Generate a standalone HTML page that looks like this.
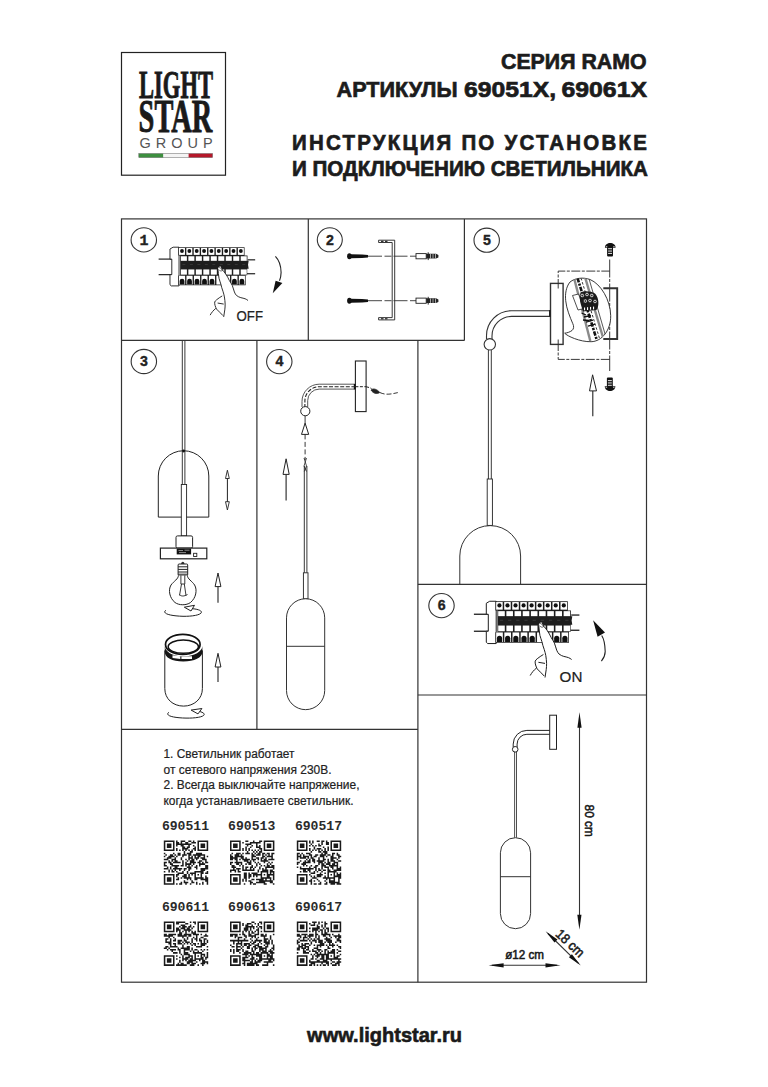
<!DOCTYPE html>
<html><head><meta charset="utf-8">
<style>
html,body{margin:0;padding:0;background:#fff;width:768px;height:1087px;overflow:hidden}
svg{display:block}
text{font-family:"Liberation Sans",sans-serif}
</style></head><body>
<svg width="768" height="1087" viewBox="0 0 768 1087">
<rect width="768" height="1087" fill="#fff"/>
<!-- 00_defs.svg -->
<defs><g id="brk"><g stroke="#1e1e1e" stroke-width="1.3" fill="none"><line x1="-13.3" y1="13" x2="1" y2="13"/><line x1="-13.3" y1="30" x2="1" y2="30"/><line x1="84" y1="13.8" x2="92.2" y2="13.8"/><line x1="83" y1="29" x2="92.2" y2="29"/></g><path d="M2.5,0 H9 V42.3 H0.5 L-0.9,41 V30 H1.1 V13 H-0.9 V2 Z" fill="#fff" stroke="#1e1e1e" stroke-width="1"/><path d="M8.2,0 H80.6 V9.2 H83.8 V14.9 H85.1 L84.4,19.2 L85.1,23.5 H83.5 V30.6 H81.8 V41.6 H8.2 V31 H10.2 V9.2 H8.2 Z" fill="#1e1e1e"/><g fill="#fff"><rect x="8.95" y="0.8" width="6.54" height="7.6"/><rect x="11.00" y="9.9" width="6.58" height="5.0"/><rect x="11.00" y="24.3" width="6.58" height="5.7"/><rect x="8.95" y="31.2" width="6.68" height="9.6"/><rect x="16.99" y="0.8" width="6.54" height="7.6"/><rect x="19.18" y="9.9" width="6.58" height="5.0"/><rect x="19.18" y="24.3" width="6.58" height="5.7"/><rect x="17.13" y="31.2" width="6.68" height="9.6"/><rect x="25.04" y="0.8" width="6.54" height="7.6"/><rect x="27.36" y="9.9" width="6.58" height="5.0"/><rect x="27.36" y="24.3" width="6.58" height="5.7"/><rect x="25.31" y="31.2" width="6.68" height="9.6"/><rect x="33.08" y="0.8" width="6.54" height="7.6"/><rect x="35.53" y="9.9" width="6.58" height="5.0"/><rect x="35.53" y="24.3" width="6.58" height="5.7"/><rect x="33.48" y="31.2" width="6.68" height="9.6"/><rect x="41.13" y="0.8" width="6.54" height="7.6"/><rect x="43.71" y="9.9" width="6.58" height="5.0"/><rect x="43.71" y="24.3" width="6.58" height="5.7"/><rect x="41.66" y="31.2" width="6.68" height="9.6"/><rect x="49.17" y="0.8" width="6.54" height="7.6"/><rect x="51.89" y="9.9" width="6.58" height="5.0"/><rect x="51.89" y="24.3" width="6.58" height="5.7"/><rect x="49.84" y="31.2" width="6.68" height="9.6"/><rect x="57.22" y="0.8" width="6.54" height="7.6"/><rect x="60.07" y="9.9" width="6.58" height="5.0"/><rect x="60.07" y="24.3" width="6.58" height="5.7"/><rect x="58.02" y="31.2" width="6.68" height="9.6"/><rect x="65.26" y="0.8" width="6.54" height="7.6"/><rect x="68.24" y="9.9" width="6.58" height="5.0"/><rect x="68.24" y="24.3" width="6.58" height="5.7"/><rect x="66.19" y="31.2" width="6.68" height="9.6"/><rect x="73.31" y="0.8" width="6.54" height="7.6"/><rect x="76.42" y="9.9" width="6.58" height="5.0"/><rect x="76.42" y="24.3" width="6.58" height="5.7"/><rect x="74.37" y="31.2" width="6.68" height="9.6"/></g><g fill="#3a3a3a"><rect x="12.69" y="18.5" width="3.2" height="1"/><rect x="20.87" y="18.5" width="3.2" height="1"/><rect x="29.04" y="18.5" width="3.2" height="1"/><rect x="37.22" y="18.5" width="3.2" height="1"/><rect x="45.40" y="18.5" width="3.2" height="1"/><rect x="53.58" y="18.5" width="3.2" height="1"/><rect x="61.76" y="18.5" width="3.2" height="1"/><rect x="69.93" y="18.5" width="3.2" height="1"/><rect x="78.11" y="18.5" width="3.2" height="1"/></g><g fill="#111"><circle cx="12.22" cy="4.2" r="2.1"/><path d="M9.69,40.8 V37 A2.6,2.6 0 0 1 14.89,37 V40.8 Z"/><circle cx="20.27" cy="4.2" r="2.1"/><path d="M17.87,40.8 V37 A2.6,2.6 0 0 1 23.07,37 V40.8 Z"/><circle cx="28.31" cy="4.2" r="2.1"/><path d="M26.04,40.8 V37 A2.6,2.6 0 0 1 31.24,37 V40.8 Z"/><circle cx="36.36" cy="4.2" r="2.1"/><path d="M34.22,40.8 V37 A2.6,2.6 0 0 1 39.42,37 V40.8 Z"/><circle cx="44.40" cy="4.2" r="2.1"/><path d="M42.40,40.8 V37 A2.6,2.6 0 0 1 47.60,37 V40.8 Z"/><circle cx="52.44" cy="4.2" r="2.1"/><circle cx="60.49" cy="4.2" r="2.1"/><circle cx="68.53" cy="4.2" r="2.1"/><path d="M66.93,40.8 V37 A2.6,2.6 0 0 1 72.13,37 V40.8 Z"/><circle cx="76.58" cy="4.2" r="2.1"/><path d="M75.11,40.8 V37 A2.6,2.6 0 0 1 80.31,37 V40.8 Z"/></g><path d="M51.55,23.95 C51.8,21.5 53.5,20.6 55,21.6 C55.8,22.6 56,23.6 56.2,24.65 C57.5,26 59,27.7 60.05,29.35 C61.5,31.5 63,34 64.05,36.45 C65.2,38.4 66.4,40 67.2,41.85 L69.5,48.95 L57,48.15 C56,45.5 55.3,43 54.7,40.35 C54,38 53.2,36 52.7,34.05 C52.2,30.5 51.7,27 51.55,23.95 Z" fill="#fff"/><path d="M55,21.6 C55.8,22.6 56,23.6 56.2,24.65 C57.5,26 59,27.7 60.05,29.35 C61.5,31.5 63,34 64.05,36.45 C65.2,38.4 66.4,40 67.2,41.85 C68.2,44.5 68.8,47 69.5,48.95 C70.2,50.5 70.8,51.8 71.8,52.75 C73.4,54 75,54.7 76.55,55.15 C78.2,55.6 79.8,55.8 81.2,56.35 C82.4,56.8 83.5,57.5 84.4,58.25" fill="none" stroke="#1e1e1e" stroke-width="1"/><path d="M51.55,23.95 C51.7,27 52.2,30.5 52.7,34.05 C53.2,36 54,38 54.7,40.35 C55.3,43 56,45.5 57,48.15 C57.7,50.3 58.2,52.3 58.6,54.35 C59,57 59.3,59.5 59.4,62.15 C59.4,64.3 59.3,66.4 59,68.45 C58.7,71 58.3,73.6 57.8,76.25" fill="none" stroke="#1e1e1e" stroke-width="1"/><path d="M56.2,53.25 C54,54.6 51.8,56 50,57.5 C49.1,58.2 48.4,59 48,59.85 C47.8,61.1 48,62.5 48.4,63.75 C48.9,65.1 49.3,66.4 50,67.65 C51.2,69 52.6,70.3 53.9,71.55 C55,72.6 56,73.7 57,74.75" fill="none" stroke="#1e1e1e" stroke-width="1"/><path d="M43,74.25 C44.5,71.5 46.5,69 49.2,66.85" fill="none" stroke="#1e1e1e" stroke-width="1"/><path d="M51.2,61.05 L57.8,62.15" fill="none" stroke="#1e1e1e" stroke-width="1"/><path d="M52.3,22.5 C53.6,21.7 55.6,23.2 56.4,25.4 C55,26.4 53.5,25.9 52.6,24.6" fill="none" stroke="#1e1e1e" stroke-width="0.7"/></g></defs>
<!-- 10_logo.svg -->
<g id="logo">
<rect x="121.5" y="52.5" width="104" height="122.7" fill="none" stroke="#222" stroke-width="1.2"/>
<text x="139.1" y="98" font-family="Liberation Serif" font-weight="bold" font-size="39" textLength="73.8" lengthAdjust="spacingAndGlyphs" fill="#1a1a1a" stroke="#1a1a1a" stroke-width="0.9" style="font-family:'Liberation Serif',serif">LIGHT</text>
<text x="138.6" y="132.3" font-family="Liberation Serif" font-weight="bold" font-size="47" textLength="73.6" lengthAdjust="spacingAndGlyphs" fill="#1a1a1a" stroke="#1a1a1a" stroke-width="0.9" style="font-family:'Liberation Serif',serif">STAR</text>
<text x="139.6" y="147.6" font-size="14.5" textLength="73" lengthAdjust="spacing" fill="#555">GROUP</text>
<rect x="138.8" y="153.5" width="24.6" height="4.1" fill="#3d8f3f"/>
<rect x="163.4" y="153.5" width="25.2" height="4.1" fill="#f4f4f4"/>
<rect x="188.6" y="153.5" width="24" height="4.1" fill="#b5182a"/>
<rect x="138.8" y="153.5" width="73.8" height="4.1" fill="none" stroke="#666" stroke-width="0.5"/>
</g>
<!-- 11_header.svg -->
<g font-weight="bold" fill="#1c1c1c" stroke="#1c1c1c" stroke-width="0.7" font-size="22.5">
<text x="501" y="68.6" textLength="145.5" lengthAdjust="spacingAndGlyphs">СЕРИЯ RAMO</text>
<text x="336.6" y="96.8" textLength="121" lengthAdjust="spacingAndGlyphs">АРТИКУЛЫ</text>
<text x="464" y="96.8" textLength="92" lengthAdjust="spacingAndGlyphs">69051X,</text>
<text x="561.5" y="96.8" textLength="85.5" lengthAdjust="spacingAndGlyphs">69061X</text>
<text transform="translate(292,149.6) scale(0.91,1)" x="0" y="0" textLength="390" lengthAdjust="spacing">ИНСТРУКЦИЯ ПО УСТАНОВКЕ</text>
<text x="292" y="175.8" textLength="356" lengthAdjust="spacingAndGlyphs">И ПОДКЛЮЧЕНИЮ СВЕТИЛЬНИКА</text>
</g>
<!-- 20_grid.svg -->
<g stroke="#333" stroke-width="1.2" fill="none">
<rect x="121.5" y="218.9" width="525" height="763.3"/>
<line x1="121.5" y1="340.4" x2="464.4" y2="340.4"/>
<line x1="308.3" y1="218.9" x2="308.3" y2="340.4"/>
<line x1="464.4" y1="218.9" x2="464.4" y2="340.4"/>
<line x1="256.9" y1="340.4" x2="256.9" y2="729.3"/>
<line x1="417.9" y1="340.4" x2="417.9" y2="982.2"/>
<line x1="121.5" y1="729.3" x2="417.9" y2="729.3"/>
<line x1="417.9" y1="584.4" x2="646.5" y2="584.4"/>
<line x1="417.9" y1="695" x2="646.5" y2="695"/>
</g>
<!-- 21_circles.svg -->
<g stroke="#333" stroke-width="1.1" fill="none">
<ellipse cx="143.8" cy="239.9" rx="12.7" ry="12.1"/>
<ellipse cx="329.8" cy="239.8" rx="12.5" ry="12"/>
<ellipse cx="486.7" cy="240.2" rx="12.7" ry="12.1"/>
<ellipse cx="143.85" cy="361.5" rx="12.7" ry="12.1"/>
<ellipse cx="279.3" cy="361.6" rx="12.7" ry="12.1"/>
<ellipse cx="441.5" cy="605.6" rx="12.7" ry="12.1"/>
</g>
<g font-weight="bold" font-size="14.2" fill="#222" stroke="#222" stroke-width="0.35" text-anchor="middle">
<text x="143.9" y="244.5" font-family="Liberation Mono" style="font-family:Liberation Mono,monospace" font-size="15">1</text>
<text x="329.9" y="244.5">2</text>
<text x="487" y="244.5">5</text>
<text x="144" y="366.1">3</text>
<text x="279.5" y="366.2">4</text>
<text x="441.6" y="610.2">6</text>
</g>
<!-- 31_panel1.svg -->
<use href="#brk" transform="translate(170.8,247.2) scale(0.915)"/>
<path d="M275.4,256.3 C279,260 281,265 281.1,272.4 C281,276 280.5,278.5 279.5,280.7" fill="none" stroke="#222" stroke-width="1.1"/>
<path d="M275.6,280.7 L282.4,283.1 L272.8,293.2 Z" fill="#111"/>
<text x="236.5" y="321.2" font-size="14" fill="#222" stroke="#222" stroke-width="0.2" textLength="26.5" lengthAdjust="spacingAndGlyphs">OFF</text>
<!-- 32_panel2.svg -->
<g id="p2">
<!-- bracket -->
<path d="M378.6,240.2 H394.7 V319.9 H378.6 V317.6 H392.2 V242.5 H378.6 Z" fill="#fff" stroke="#222" stroke-width="0.9"/>
<g fill="#333"><rect x="381" y="240.7" width="2.5" height="1.3"/><rect x="385" y="240.7" width="2.5" height="1.3"/><rect x="381" y="318.1" width="2.5" height="1.3"/><rect x="385" y="318.1" width="2.5" height="1.3"/></g>
<!-- screws -->
<g id="scr">
<line x1="368" y1="256.2" x2="416" y2="256.2" stroke="#333" stroke-width="0.9" stroke-dasharray="14,2.5,7,2"/>
<ellipse cx="349.4" cy="256.2" rx="2.3" ry="3" fill="#111"/>
<path d="M350.5,254.2 L362,254.5 L368,255 V257.4 L362,257.9 L350.5,258.2 Z" fill="#111"/>
<rect x="416" y="253.6" width="10.2" height="5.2" fill="#fff" stroke="#222" stroke-width="0.9"/>
<path d="M426.2,253.8 H436 L438.4,255 V257.4 L436,258.6 H426.2 Z" fill="#222"/>
<line x1="428.2" y1="252.3" x2="428.2" y2="260.1" stroke="#222" stroke-width="1"/>
<g stroke="#fff" stroke-width="0.6"><line x1="430.5" y1="254" x2="430.5" y2="258.4"/><line x1="433" y1="254" x2="433" y2="258.4"/><line x1="435.5" y1="254" x2="435.5" y2="258.4"/></g>
</g>
<use href="#scr" transform="translate(0,44.5)"/>
</g>
<!-- 33_panel3.svg -->
<g id="p3" fill="none" stroke="#222" stroke-width="0.9">
<!-- rod -->
<line x1="182.3" y1="341" x2="182.3" y2="484.5"/>
<line x1="184.9" y1="341" x2="184.9" y2="484.5"/>
<!-- dome -->
<path d="M158.3,517.1 V476 A25.25,25.25 0 0 1 208.8,476 V517.1 Z" stroke="#222" stroke-width="1"/>
<circle cx="183.6" cy="451" r="1.4" fill="#111" stroke="none"/>
<!-- sleeve -->
<rect x="181.3" y="484.5" width="5.3" height="51.4" fill="#fff"/>
<!-- double arrow -->
<line x1="227.4" y1="478" x2="227.4" y2="502" stroke-width="1"/>
<path d="M227.4,470.2 L229.3,478.5 H225.5 Z" fill="#fff" stroke-width="0.9"/>
<path d="M227.4,510 L229.3,501.7 H225.5 Z" fill="#fff" stroke-width="0.9"/>
<!-- socket -->
<rect x="176" y="535.9" width="16.6" height="12.2" rx="1.5" fill="#fff" stroke-width="1"/>
<!-- plate -->
<rect x="160.4" y="548.1" width="46.4" height="10.7" fill="#fff" stroke-width="1.2"/>
<rect x="176.7" y="548.6" width="14.4" height="5.8" fill="#111" stroke="none"/>
<path d="M178.5,550.5 H183 M184.5,550.2 H189.5 M179,552.6 H186" stroke="#bbb" stroke-width="0.7"/>
<rect x="193.6" y="553.3" width="3.2" height="3.2" fill="#fff" stroke-width="0.9"/>
<!-- bulb -->
<circle cx="182.8" cy="563.4" r="1.6" fill="#333" stroke="none"/>
<rect x="178.1" y="564" width="9.6" height="11.4" rx="1" fill="#fff" stroke-width="1"/>
<path d="M178.1,566.8 H187.7 M178.1,569.4 H187.7 M178.1,572 H187.7 M178.1,574.2 H187.7" stroke-width="1"/>
<path d="M178.4,575.4 C178.4,579 174,581 171,585 C168,590 169.5,598 175,602.5 C179,605.5 186.5,605.5 190.5,602.5 C196,598 197.5,590 194.6,585 C192,581 187.4,579 187.4,575.4" stroke-width="1" fill="#fff"/>
<path d="M180.9,575.4 V584 H184.8 V575.4 M181.5,584 L179.5,595.5 M184.3,584 L186,595.5 M179.5,594.5 C181,596.5 184,596.5 187.5,594.5" stroke-width="0.9"/>
<!-- rotation arrow 1 -->
<path d="M190.5,608.5 C197,609 201.5,610.2 201.4,612.3 C201,615 192,616.5 183,616.3 C173,616 165.5,614.5 164.8,612.2 C164.5,611.3 165,610.8 166,610.3" stroke-width="1"/>
<path d="M184.3,607.2 L194.5,605.3 L191,611 Z" fill="#fff" stroke-width="1"/>
<!-- up arrow 1 -->
<line x1="218" y1="586.6" x2="218" y2="602.8" stroke-width="1.1"/>
<path d="M218,573 L220.9,586.6 H215.1 Z" fill="#fff" stroke-width="1"/>
<!-- shade -->
<path d="M164.8,650.4 V688.5 C164.8,699 173,706.1 183.6,706.1 C194,706.1 202.4,699 202.4,688.5 V650.4" stroke-width="1"/>
<path d="M164.8,646 C164.8,651 172,656.5 183.3,656.5 C194.5,656.5 202.4,651 202.4,646 V652 C202.4,657.5 194.5,661.5 183.3,661.5 C172,661.5 164.8,657.5 164.8,652 Z" fill="#151515" stroke="none"/>
<ellipse cx="182.8" cy="644.4" rx="17.3" ry="10" fill="#fff" stroke="#111" stroke-width="1.7"/>
<ellipse cx="183.3" cy="646.7" rx="15.1" ry="6.6" fill="#fff" stroke="#111" stroke-width="1.5"/>
<g fill="#fff" stroke="none"><path d="M172.5,655.2 L180.3,656.3 V659 L172.5,658 Z"/><path d="M181.4,656.4 L192,656.2 V658.9 L181.4,659.1 Z"/></g>
<!-- up arrow 2 -->
<line x1="218" y1="667" x2="218" y2="682.1" stroke-width="1.1"/>
<path d="M218,653.3 L220.9,667 H215.1 Z" fill="#fff" stroke-width="1"/>
<!-- rotation arrow 2 -->
<path d="M196,710.8 C201,711.5 204.3,712.8 204.2,714.5 C203.8,717 195,718.3 186,718.1 C176,717.9 168.5,716.5 167.8,714.3 C167.5,713.4 168,712.8 169,712.3" stroke-width="1"/>
<path d="M191.1,710.1 L201.9,708.5 L198,713.9 Z" fill="#fff" stroke-width="1"/>
</g>
<!-- 34_panel4.svg -->
<g id="p4" fill="none" stroke="#222" stroke-width="0.9">
<!-- plate -->
<rect x="355.4" y="361" width="10.7" height="50.6" fill="#fff" stroke-width="1.1"/>
<!-- arm -->
<path d="M355.4,384.2 H319.2 A17.2,17.2 0 0 0 302,401.4 V407" stroke="#444" stroke-width="0.9"/>
<path d="M355.4,389.1 H319.2 A11.5,11.5 0 0 0 307.7,400.6 V407" stroke="#444" stroke-width="0.9"/>
<rect x="353.8" y="384" width="1.8" height="5.3" fill="#111" stroke="none"/>
<path d="M355.4,386.7 H319.2 A14.3,14.3 0 0 0 304.9,401 V411" stroke="#222" stroke-width="1.1" stroke-dasharray="4,1.6"/>
<path d="M366,386.7 C368,387 370,387.8 371.5,388.5" stroke-width="1" stroke-dasharray="3,1.5"/><line x1="355.4" y1="386.7" x2="366" y2="386.7" stroke-width="1" stroke-dasharray="3,1.5"/>
<circle cx="305.3" cy="411.2" r="4.6" fill="#fff" stroke-width="1"/>
<!-- wire -->
<path d="M371,390 C373,388 377,389 379.8,392.5 C377,394.5 373,393.5 371,390 Z" fill="#222" stroke-width="0.8"/>
<path d="M379.8,392.5 C385,395 390,394.5 397.8,392.6" stroke-width="0.9" stroke-dasharray="5,2"/>
<!-- dashed line down -->
<line x1="305.1" y1="415.8" x2="305.1" y2="423.5" stroke-width="0.9"/>
<path d="M305.1,423.1 L308.7,434.4 H301.5 Z" fill="#fff" stroke-width="1"/>
<line x1="305.1" y1="434.4" x2="305.1" y2="460" stroke-width="0.9" stroke-dasharray="5,2.5"/>
<path d="M304,458 L306.5,466 L304.3,471.5 M306.5,458 L304,466 L306.5,471.5" stroke-width="0.8"/>
<!-- rod -->
<line x1="304.3" y1="466" x2="304.3" y2="572.8" stroke-width="0.9"/>
<line x1="306.9" y1="466" x2="306.9" y2="572.8" stroke-width="0.9"/>
<rect x="303.4" y="572.8" width="4.6" height="26" fill="#fff" stroke-width="0.9"/>
<!-- capsule -->
<rect x="286.5" y="598.75" width="38.2" height="110.9" rx="19.1" ry="19.1" fill="#fff" stroke="#333" stroke-width="1"/>
<line x1="286.5" y1="646.3" x2="324.7" y2="646.3" stroke="#333" stroke-width="1"/>
<!-- left arrow -->
<line x1="286.1" y1="474.4" x2="286.1" y2="500.4" stroke-width="1.1"/>
<path d="M286.1,458.8 L289.2,474.4 H283 Z" fill="#fff" stroke-width="1"/>
</g>
<!-- 35_panel5.svg -->
<g id="p5" fill="none" stroke="#222" stroke-width="0.9">
<!-- dashed box -->
<path d="M558.2,288 V271.1 H609.7" stroke-dasharray="9,1.5,3,1.5"/>
<path d="M558.2,342 V359.4 H609.7" stroke-dasharray="9,1.5,3,1.5"/>
<line x1="609.7" y1="259.5" x2="609.7" y2="371" stroke-dasharray="18,1.5,3,1.5"/>
<!-- plate -->
<rect x="550.5" y="283.4" width="12.6" height="61" fill="#fff" stroke="#333" stroke-width="1.4"/>
<line x1="558.2" y1="283.4" x2="558.2" y2="288.5" stroke-width="0.9"/>
<line x1="558.2" y1="339.5" x2="558.2" y2="344.4" stroke-width="0.9"/>
<!-- arm -->
<path d="M550,310.7 H511.5 A25,25 0 0 0 486.5,336 V339" stroke="#333" stroke-width="1.1"/>
<path d="M550,316.4 H511.5 A19.5,19.5 0 0 0 492,336 V339" stroke="#333" stroke-width="1.1"/>
<rect x="549" y="310" width="1.8" height="7" fill="#222" stroke="none"/>
<circle cx="489.8" cy="344.3" r="5.7" fill="#fff" stroke="#333" stroke-width="1.1"/>
<!-- rod -->
<line x1="488.4" y1="350" x2="488.4" y2="479" stroke-width="0.9"/>
<line x1="491.3" y1="350" x2="491.3" y2="479" stroke-width="0.9"/>
<rect x="487.2" y="479" width="5.2" height="46.4" fill="#fff" stroke-width="0.9"/>
<!-- dome -->
<path d="M459.8,584.4 V556 A30.4,30.4 0 0 1 520.6,556 V584.4" stroke="#333" stroke-width="1"/>
<!-- bracket -->
<path d="M603.3,288.2 H617.2 V339 H603.3" stroke="#333" stroke-width="1.9"/>

<!-- junction box -->
<clipPath id="jbclip"><path d="M564.7,333.2 C567,336 580,342 591.1,341.7 C602,341.5 611,330 610.7,315.6 C610.3,300 601,284 590,279.5 C583,277 575,278 570,282 C566,287 565,294 565.7,300.7 C566.5,309 570,317 572.8,323.7 C574,326 574,329 572,330.5 C570,332 567,333 564.7,333.2 Z"/></clipPath>
<path d="M564.7,333.2 C567,336 580,342 591.1,341.7 C602,341.5 611,330 610.7,315.6 C610.3,300 601,284 590,279.5 C583,277 575,278 570,282 C566,287 565,294 565.7,300.7 C566.5,309 570,317 572.8,323.7 C574,326 574,329 572,330.5 C570,332 567,333 564.7,333.2 Z" fill="#fff" stroke="#222" stroke-width="0.9"/>
<g clip-path="url(#jbclip)">
<path d="M573.8,277 L590.3,341" stroke="#8a8a8a" stroke-width="2.4"/>
<path d="M585,277 L603.5,339" stroke="#8a8a8a" stroke-width="2.4"/>
<path d="M588.5,277 L606.5,339" stroke="#444" stroke-width="0.9"/>
<path d="M577.5,278 L596.8,340" stroke="#111" stroke-width="2.6" stroke-dasharray="4.5,1.3,2.2,1.3"/>
<path d="M581,278 L600,340" stroke="#333" stroke-width="1" stroke-dasharray="2.5,1.8"/>
</g>
<path d="M572.5,295.5 L578.5,294 L584,308.5 L578,310 Z" fill="#fff" stroke="#222" stroke-width="0.8"/>
<path d="M580.5,292.5 C584,290.5 591,291 595,293.5 C598,296.5 599,302 598,306.5 L596.5,310 L583,311.5 L581,305 C579.5,301 579.5,296 580.5,292.5 Z" fill="#1a1a1a" stroke="none"/>
<g fill="#fff" stroke="#111" stroke-width="0.7"><circle cx="582.3" cy="295.6" r="2"/><circle cx="587" cy="294.6" r="2"/><circle cx="591.7" cy="295.5" r="2"/><circle cx="585.3" cy="301" r="2"/><circle cx="590" cy="300.4" r="2"/><circle cx="595" cy="301.6" r="2"/></g><g fill="#111"><circle cx="582.3" cy="295.6" r="0.6"/><circle cx="587" cy="294.6" r="0.6"/><circle cx="591.7" cy="295.5" r="0.6"/><circle cx="585.3" cy="301" r="0.6"/><circle cx="590" cy="300.4" r="0.6"/><circle cx="595" cy="301.6" r="0.6"/></g>
<g fill="#fff" stroke="none"><rect x="584" y="307.5" width="1.1" height="2.8"/><rect x="587" y="307.2" width="1.1" height="2.8"/><rect x="590" y="306.9" width="1.1" height="2.8"/><rect x="593" y="306.6" width="1.1" height="2.8"/></g>
<path d="M581.5,313 L586,315 M584,317 L591,315.5 M583,320 L589,320.5 M586,322 L593,320 M588,326 L595,324" stroke="#111" stroke-width="1.3"/>
<!-- screws -->
<g id="screwT" stroke="none">
<path d="M604.9,247.7 C605,244.5 607.5,243 610.25,243 C613,243 615.5,244.5 615.6,247.7 Z" fill="#111"/>
<rect x="607.1" y="245.7" width="5.9" height="10.8" rx="1" fill="#111"/>
<g fill="#fff"><rect x="608.1" y="248.3" width="3.9" height="0.9"/><rect x="608.1" y="250.6" width="3.9" height="0.9"/><rect x="608.1" y="252.9" width="3.9" height="0.9"/><rect x="605.8" y="246.4" width="1.5" height="0.7"/><rect x="613.2" y="246.4" width="1.5" height="0.7"/></g>
</g>
<g transform="translate(0,634) scale(1,-1)">
<use href="#screwT" transform="translate(-0.2,0)"/>
</g>
<!-- arrow -->
<line x1="592.8" y1="390.9" x2="592.8" y2="416.3" stroke-width="1.1"/>
<path d="M592.6,374.8 L596.5,390.9 H589.5 Z" fill="#fff" stroke-width="1"/>
</g>
<!-- 36_panel6.svg -->
<use href="#brk" transform="translate(487.2,601.25)"/>
<path d="M601.7,635.5 C604,639 605,644 605.2,651.5 C605.2,655 603.5,658.5 601.4,661.1" fill="none" stroke="#222" stroke-width="1.1"/>
<path d="M593.1,620.3 L605,632.5 L597.6,636.8 Z" fill="#111"/>
<text x="559.6" y="681.8" font-size="14.5" fill="#222" stroke="#222" stroke-width="0.2" textLength="22.8" lengthAdjust="spacingAndGlyphs">ON</text>
<!-- 37_panel7.svg -->
<g id="p7" fill="none" stroke="#222" stroke-width="0.9">
<!-- plate -->
<rect x="549.7" y="715.2" width="6.8" height="34.1" fill="#fff" stroke-width="1"/>
<!-- arm -->
<path d="M549.7,730.4 H526.9 A13.7,13.7 0 0 0 513.2,744.1 V747" stroke-width="1"/>
<path d="M549.7,734.3 H526.9 A9.8,9.8 0 0 0 517.1,744.1 V747" stroke-width="1"/>
<circle cx="515.2" cy="749.3" r="2.8" fill="#fff" stroke-width="1"/>
<!-- rod -->
<line x1="514.6" y1="752" x2="514.6" y2="837.7" stroke-width="0.8"/>
<line x1="516.5" y1="752" x2="516.5" y2="837.7" stroke-width="0.8"/>
<!-- capsule -->
<rect x="500.4" y="837.7" width="30.2" height="91" rx="15.1" ry="15.1" fill="#fff" stroke="#333" stroke-width="1"/>
<line x1="500.4" y1="876.7" x2="530.6" y2="876.7" stroke="#333" stroke-width="1"/>
<!-- vertical dim -->
<line x1="579.5" y1="722" x2="579.5" y2="920" stroke="#333" stroke-width="1.1"/>
<path d="M579.5,712.2 L581.6,727.8 H577.4 Z" fill="#111" stroke="none"/>
<path d="M579.4,929.7 L581.5,914.8 H577.3 Z" fill="#111" stroke="none"/>
<!-- diagonal dim -->
<line x1="548" y1="933.5" x2="578.5" y2="963.4" stroke="#333" stroke-width="1.1"/>
<path d="M545.6,931.25 L557.5,939.6 L554.5,942.6 Z" fill="#111" stroke="none"/>
<path d="M580.8,965.6 L568.9,957.3 L571.9,954.3 Z" fill="#111" stroke="none"/>
<!-- horizontal dim -->
<line x1="492" y1="965.3" x2="557" y2="965.3" stroke="#333" stroke-width="1.1"/>
<path d="M488.6,965.3 L503.6,963.2 V967.4 Z" fill="#111" stroke="none"/>
<path d="M560.5,965.3 L545.5,963.2 V967.4 Z" fill="#111" stroke="none"/>
</g>
<g fill="#1a1a1a" stroke="#1a1a1a" stroke-width="0.55" font-size="13">
<text transform="translate(584.9,804.6) rotate(90)" textLength="32.3" lengthAdjust="spacingAndGlyphs">80 cm</text>
<text transform="translate(567,946.6) rotate(43.5)" text-anchor="middle" font-size="13.6" textLength="33.8" lengthAdjust="spacingAndGlyphs">18 cm</text>
<text x="505.2" y="959.4" font-size="12" textLength="38.8" lengthAdjust="spacingAndGlyphs">ø12 cm</text>
</g>
<!-- 40_notes.svg -->
<g font-size="12.3" fill="#222" stroke="#222" stroke-width="0.2">
<text x="163.5" y="758.4" textLength="131" lengthAdjust="spacingAndGlyphs">1. Светильник работает</text>
<text x="163.5" y="773.9" textLength="168" lengthAdjust="spacingAndGlyphs">от сетевого напряжения 230В.</text>
<text x="163.5" y="789.4" textLength="196" lengthAdjust="spacingAndGlyphs">2. Всегда выключайте напряжение,</text>
<text x="163.5" y="804.9" textLength="190" lengthAdjust="spacingAndGlyphs">когда устанавливаете светильник.</text>
</g>
<!-- 41_qr.svg -->
<g id="qrs">
<path d="M163.80,840.40h10.72v1.53h-10.72zM176.05,840.40h1.53v1.53h-1.53zM180.64,840.40h4.59v1.53h-4.59zM188.30,840.40h3.06v1.53h-3.06zM192.89,840.40h1.53v1.53h-1.53zM197.48,840.40h10.72v1.53h-10.72zM163.80,841.93h1.53v1.53h-1.53zM172.99,841.93h1.53v1.53h-1.53zM176.05,841.93h3.06v1.53h-3.06zM180.64,841.93h1.53v1.53h-1.53zM185.23,841.93h3.06v1.53h-3.06zM191.36,841.93h4.59v1.53h-4.59zM197.48,841.93h1.53v1.53h-1.53zM206.67,841.93h1.53v1.53h-1.53zM163.80,843.46h1.53v1.53h-1.53zM166.86,843.46h4.59v1.53h-4.59zM172.99,843.46h1.53v1.53h-1.53zM176.05,843.46h15.31v1.53h-15.31zM197.48,843.46h1.53v1.53h-1.53zM200.54,843.46h4.59v1.53h-4.59zM206.67,843.46h1.53v1.53h-1.53zM163.80,844.99h1.53v1.53h-1.53zM166.86,844.99h4.59v1.53h-4.59zM172.99,844.99h1.53v1.53h-1.53zM176.05,844.99h1.53v1.53h-1.53zM180.64,844.99h3.06v1.53h-3.06zM188.30,844.99h1.53v1.53h-1.53zM192.89,844.99h1.53v1.53h-1.53zM197.48,844.99h1.53v1.53h-1.53zM200.54,844.99h4.59v1.53h-4.59zM206.67,844.99h1.53v1.53h-1.53zM163.80,846.52h1.53v1.53h-1.53zM166.86,846.52h4.59v1.53h-4.59zM172.99,846.52h1.53v1.53h-1.53zM182.17,846.52h3.06v1.53h-3.06zM186.77,846.52h3.06v1.53h-3.06zM194.42,846.52h1.53v1.53h-1.53zM197.48,846.52h1.53v1.53h-1.53zM200.54,846.52h4.59v1.53h-4.59zM206.67,846.52h1.53v1.53h-1.53zM163.80,848.06h1.53v1.53h-1.53zM172.99,848.06h1.53v1.53h-1.53zM176.05,848.06h1.53v1.53h-1.53zM182.17,848.06h6.12v1.53h-6.12zM192.89,848.06h3.06v1.53h-3.06zM197.48,848.06h1.53v1.53h-1.53zM206.67,848.06h1.53v1.53h-1.53zM163.80,849.59h10.72v1.53h-10.72zM176.05,849.59h1.53v1.53h-1.53zM179.11,849.59h1.53v1.53h-1.53zM182.17,849.59h1.53v1.53h-1.53zM185.23,849.59h1.53v1.53h-1.53zM188.30,849.59h1.53v1.53h-1.53zM191.36,849.59h1.53v1.53h-1.53zM194.42,849.59h1.53v1.53h-1.53zM197.48,849.59h10.72v1.53h-10.72zM183.70,851.12h1.53v1.53h-1.53zM189.83,851.12h3.06v1.53h-3.06zM163.80,852.65h1.53v1.53h-1.53zM172.99,852.65h1.53v1.53h-1.53zM177.58,852.65h3.06v1.53h-3.06zM183.70,852.65h1.53v1.53h-1.53zM186.77,852.65h4.59v1.53h-4.59zM195.95,852.65h6.12v1.53h-6.12zM165.33,854.18h1.53v1.53h-1.53zM169.92,854.18h3.06v1.53h-3.06zM174.52,854.18h1.53v1.53h-1.53zM177.58,854.18h3.06v1.53h-3.06zM182.17,854.18h4.59v1.53h-4.59zM188.30,854.18h3.06v1.53h-3.06zM192.89,854.18h12.25v1.53h-12.25zM163.80,855.71h1.53v1.53h-1.53zM168.39,855.71h6.12v1.53h-6.12zM176.05,855.71h1.53v1.53h-1.53zM182.17,855.71h1.53v1.53h-1.53zM188.30,855.71h1.53v1.53h-1.53zM191.36,855.71h1.53v1.53h-1.53zM194.42,855.71h1.53v1.53h-1.53zM197.48,855.71h3.06v1.53h-3.06zM203.61,855.71h1.53v1.53h-1.53zM206.67,855.71h1.53v1.53h-1.53zM166.86,857.24h4.59v1.53h-4.59zM174.52,857.24h1.53v1.53h-1.53zM180.64,857.24h1.53v1.53h-1.53zM188.30,857.24h4.59v1.53h-4.59zM194.42,857.24h4.59v1.53h-4.59zM200.54,857.24h4.59v1.53h-4.59zM163.80,858.77h4.59v1.53h-4.59zM171.46,858.77h4.59v1.53h-4.59zM180.64,858.77h1.53v1.53h-1.53zM185.23,858.77h1.53v1.53h-1.53zM188.30,858.77h1.53v1.53h-1.53zM191.36,858.77h3.06v1.53h-3.06zM195.95,858.77h1.53v1.53h-1.53zM202.08,858.77h4.59v1.53h-4.59zM168.39,860.30h1.53v1.53h-1.53zM171.46,860.30h1.53v1.53h-1.53zM174.52,860.30h3.06v1.53h-3.06zM182.17,860.30h1.53v1.53h-1.53zM186.77,860.30h1.53v1.53h-1.53zM189.83,860.30h4.59v1.53h-4.59zM199.01,860.30h3.06v1.53h-3.06zM205.14,860.30h1.53v1.53h-1.53zM163.80,861.83h3.06v1.53h-3.06zM168.39,861.83h3.06v1.53h-3.06zM172.99,861.83h7.66v1.53h-7.66zM182.17,861.83h1.53v1.53h-1.53zM185.23,861.83h1.53v1.53h-1.53zM189.83,861.83h6.12v1.53h-6.12zM197.48,861.83h3.06v1.53h-3.06zM202.08,861.83h1.53v1.53h-1.53zM205.14,861.83h3.06v1.53h-3.06zM163.80,863.37h1.53v1.53h-1.53zM169.92,863.37h3.06v1.53h-3.06zM182.17,863.37h1.53v1.53h-1.53zM185.23,863.37h6.12v1.53h-6.12zM192.89,863.37h1.53v1.53h-1.53zM199.01,863.37h6.12v1.53h-6.12zM163.80,864.90h3.06v1.53h-3.06zM171.46,864.90h7.66v1.53h-7.66zM180.64,864.90h3.06v1.53h-3.06zM185.23,864.90h1.53v1.53h-1.53zM188.30,864.90h1.53v1.53h-1.53zM191.36,864.90h1.53v1.53h-1.53zM195.95,864.90h1.53v1.53h-1.53zM199.01,864.90h1.53v1.53h-1.53zM205.14,864.90h3.06v1.53h-3.06zM166.86,866.43h1.53v1.53h-1.53zM169.92,866.43h1.53v1.53h-1.53zM174.52,866.43h3.06v1.53h-3.06zM186.77,866.43h4.59v1.53h-4.59zM194.42,866.43h3.06v1.53h-3.06zM205.14,866.43h3.06v1.53h-3.06zM163.80,867.96h4.59v1.53h-4.59zM169.92,867.96h1.53v1.53h-1.53zM172.99,867.96h9.19v1.53h-9.19zM183.70,867.96h3.06v1.53h-3.06zM188.30,867.96h3.06v1.53h-3.06zM195.95,867.96h1.53v1.53h-1.53zM200.54,867.96h7.66v1.53h-7.66zM168.39,869.49h1.53v1.53h-1.53zM171.46,869.49h1.53v1.53h-1.53zM174.52,869.49h1.53v1.53h-1.53zM179.11,869.49h1.53v1.53h-1.53zM183.70,869.49h1.53v1.53h-1.53zM188.30,869.49h1.53v1.53h-1.53zM200.54,869.49h4.59v1.53h-4.59zM163.80,871.02h1.53v1.53h-1.53zM168.39,871.02h1.53v1.53h-1.53zM171.46,871.02h3.06v1.53h-3.06zM176.05,871.02h1.53v1.53h-1.53zM182.17,871.02h1.53v1.53h-1.53zM186.77,871.02h1.53v1.53h-1.53zM194.42,871.02h9.19v1.53h-9.19zM206.67,871.02h1.53v1.53h-1.53zM177.58,872.55h6.12v1.53h-6.12zM186.77,872.55h1.53v1.53h-1.53zM189.83,872.55h6.12v1.53h-6.12zM200.54,872.55h3.06v1.53h-3.06zM205.14,872.55h3.06v1.53h-3.06zM163.80,874.08h10.72v1.53h-10.72zM176.05,874.08h3.06v1.53h-3.06zM183.70,874.08h3.06v1.53h-3.06zM188.30,874.08h1.53v1.53h-1.53zM191.36,874.08h1.53v1.53h-1.53zM194.42,874.08h1.53v1.53h-1.53zM197.48,874.08h1.53v1.53h-1.53zM200.54,874.08h1.53v1.53h-1.53zM163.80,875.61h1.53v1.53h-1.53zM172.99,875.61h1.53v1.53h-1.53zM176.05,875.61h1.53v1.53h-1.53zM182.17,875.61h4.59v1.53h-4.59zM188.30,875.61h1.53v1.53h-1.53zM194.42,875.61h1.53v1.53h-1.53zM200.54,875.61h1.53v1.53h-1.53zM205.14,875.61h1.53v1.53h-1.53zM163.80,877.14h1.53v1.53h-1.53zM166.86,877.14h4.59v1.53h-4.59zM172.99,877.14h1.53v1.53h-1.53zM177.58,877.14h1.53v1.53h-1.53zM180.64,877.14h1.53v1.53h-1.53zM183.70,877.14h7.66v1.53h-7.66zM194.42,877.14h9.19v1.53h-9.19zM205.14,877.14h3.06v1.53h-3.06zM163.80,878.68h1.53v1.53h-1.53zM166.86,878.68h4.59v1.53h-4.59zM172.99,878.68h1.53v1.53h-1.53zM176.05,878.68h3.06v1.53h-3.06zM186.77,878.68h1.53v1.53h-1.53zM189.83,878.68h1.53v1.53h-1.53zM194.42,878.68h3.06v1.53h-3.06zM200.54,878.68h7.66v1.53h-7.66zM163.80,880.21h1.53v1.53h-1.53zM166.86,880.21h4.59v1.53h-4.59zM172.99,880.21h1.53v1.53h-1.53zM183.70,880.21h1.53v1.53h-1.53zM191.36,880.21h1.53v1.53h-1.53zM205.14,880.21h3.06v1.53h-3.06zM163.80,881.74h1.53v1.53h-1.53zM172.99,881.74h1.53v1.53h-1.53zM180.64,881.74h1.53v1.53h-1.53zM183.70,881.74h4.59v1.53h-4.59zM191.36,881.74h3.06v1.53h-3.06zM195.95,881.74h1.53v1.53h-1.53zM202.08,881.74h1.53v1.53h-1.53zM206.67,881.74h1.53v1.53h-1.53zM163.80,883.27h10.72v1.53h-10.72zM176.05,883.27h1.53v1.53h-1.53zM179.11,883.27h3.06v1.53h-3.06zM185.23,883.27h1.53v1.53h-1.53zM189.83,883.27h1.53v1.53h-1.53zM195.95,883.27h1.53v1.53h-1.53zM199.01,883.27h1.53v1.53h-1.53zM202.08,883.27h1.53v1.53h-1.53zM206.67,883.27h1.53v1.53h-1.53z" fill="#1a1a1a"/>
<path d="M230.00,840.40h10.72v1.53h-10.72zM245.31,840.40h3.06v1.53h-3.06zM252.97,840.40h1.53v1.53h-1.53zM259.09,840.40h3.06v1.53h-3.06zM263.68,840.40h10.72v1.53h-10.72zM230.00,841.93h1.53v1.53h-1.53zM239.19,841.93h1.53v1.53h-1.53zM242.25,841.93h1.53v1.53h-1.53zM249.90,841.93h10.72v1.53h-10.72zM263.68,841.93h1.53v1.53h-1.53zM272.87,841.93h1.53v1.53h-1.53zM230.00,843.46h1.53v1.53h-1.53zM233.06,843.46h4.59v1.53h-4.59zM239.19,843.46h1.53v1.53h-1.53zM245.31,843.46h6.12v1.53h-6.12zM256.03,843.46h1.53v1.53h-1.53zM263.68,843.46h1.53v1.53h-1.53zM266.74,843.46h4.59v1.53h-4.59zM272.87,843.46h1.53v1.53h-1.53zM230.00,844.99h1.53v1.53h-1.53zM233.06,844.99h4.59v1.53h-4.59zM239.19,844.99h1.53v1.53h-1.53zM246.84,844.99h1.53v1.53h-1.53zM251.43,844.99h1.53v1.53h-1.53zM256.03,844.99h1.53v1.53h-1.53zM259.09,844.99h1.53v1.53h-1.53zM263.68,844.99h1.53v1.53h-1.53zM266.74,844.99h4.59v1.53h-4.59zM272.87,844.99h1.53v1.53h-1.53zM230.00,846.52h1.53v1.53h-1.53zM233.06,846.52h4.59v1.53h-4.59zM239.19,846.52h1.53v1.53h-1.53zM245.31,846.52h1.53v1.53h-1.53zM249.90,846.52h1.53v1.53h-1.53zM256.03,846.52h4.59v1.53h-4.59zM263.68,846.52h1.53v1.53h-1.53zM266.74,846.52h4.59v1.53h-4.59zM272.87,846.52h1.53v1.53h-1.53zM230.00,848.06h1.53v1.53h-1.53zM239.19,848.06h1.53v1.53h-1.53zM242.25,848.06h1.53v1.53h-1.53zM245.31,848.06h1.53v1.53h-1.53zM248.37,848.06h1.53v1.53h-1.53zM259.09,848.06h3.06v1.53h-3.06zM263.68,848.06h1.53v1.53h-1.53zM272.87,848.06h1.53v1.53h-1.53zM230.00,849.59h10.72v1.53h-10.72zM242.25,849.59h1.53v1.53h-1.53zM245.31,849.59h1.53v1.53h-1.53zM248.37,849.59h1.53v1.53h-1.53zM251.43,849.59h1.53v1.53h-1.53zM254.50,849.59h1.53v1.53h-1.53zM257.56,849.59h1.53v1.53h-1.53zM260.62,849.59h1.53v1.53h-1.53zM263.68,849.59h10.72v1.53h-10.72zM246.84,851.12h1.53v1.53h-1.53zM252.97,851.12h1.53v1.53h-1.53zM256.03,851.12h1.53v1.53h-1.53zM259.09,851.12h3.06v1.53h-3.06zM231.53,852.65h1.53v1.53h-1.53zM236.12,852.65h4.59v1.53h-4.59zM242.25,852.65h1.53v1.53h-1.53zM245.31,852.65h4.59v1.53h-4.59zM251.43,852.65h1.53v1.53h-1.53zM254.50,852.65h1.53v1.53h-1.53zM257.56,852.65h3.06v1.53h-3.06zM262.15,852.65h3.06v1.53h-3.06zM266.74,852.65h3.06v1.53h-3.06zM271.34,852.65h3.06v1.53h-3.06zM230.00,854.18h1.53v1.53h-1.53zM234.59,854.18h4.59v1.53h-4.59zM240.72,854.18h1.53v1.53h-1.53zM251.43,854.18h3.06v1.53h-3.06zM256.03,854.18h4.59v1.53h-4.59zM262.15,854.18h1.53v1.53h-1.53zM265.21,854.18h1.53v1.53h-1.53zM268.28,854.18h1.53v1.53h-1.53zM271.34,854.18h1.53v1.53h-1.53zM230.00,855.71h3.06v1.53h-3.06zM234.59,855.71h9.19v1.53h-9.19zM251.43,855.71h4.59v1.53h-4.59zM262.15,855.71h3.06v1.53h-3.06zM266.74,855.71h6.12v1.53h-6.12zM230.00,857.24h7.66v1.53h-7.66zM240.72,857.24h3.06v1.53h-3.06zM245.31,857.24h1.53v1.53h-1.53zM251.43,857.24h1.53v1.53h-1.53zM256.03,857.24h3.06v1.53h-3.06zM260.62,857.24h3.06v1.53h-3.06zM265.21,857.24h1.53v1.53h-1.53zM271.34,857.24h1.53v1.53h-1.53zM230.00,858.77h3.06v1.53h-3.06zM234.59,858.77h3.06v1.53h-3.06zM239.19,858.77h1.53v1.53h-1.53zM242.25,858.77h7.66v1.53h-7.66zM251.43,858.77h4.59v1.53h-4.59zM257.56,858.77h1.53v1.53h-1.53zM260.62,858.77h1.53v1.53h-1.53zM263.68,858.77h3.06v1.53h-3.06zM268.28,858.77h6.12v1.53h-6.12zM236.12,860.30h1.53v1.53h-1.53zM243.78,860.30h4.59v1.53h-4.59zM249.90,860.30h1.53v1.53h-1.53zM252.97,860.30h1.53v1.53h-1.53zM260.62,860.30h7.66v1.53h-7.66zM230.00,861.83h3.06v1.53h-3.06zM234.59,861.83h7.66v1.53h-7.66zM246.84,861.83h4.59v1.53h-4.59zM254.50,861.83h1.53v1.53h-1.53zM257.56,861.83h1.53v1.53h-1.53zM263.68,861.83h1.53v1.53h-1.53zM268.28,861.83h1.53v1.53h-1.53zM271.34,861.83h1.53v1.53h-1.53zM230.00,863.37h1.53v1.53h-1.53zM236.12,863.37h3.06v1.53h-3.06zM240.72,863.37h1.53v1.53h-1.53zM245.31,863.37h1.53v1.53h-1.53zM248.37,863.37h3.06v1.53h-3.06zM256.03,863.37h1.53v1.53h-1.53zM259.09,863.37h1.53v1.53h-1.53zM266.74,863.37h1.53v1.53h-1.53zM269.81,863.37h1.53v1.53h-1.53zM231.53,864.90h3.06v1.53h-3.06zM239.19,864.90h1.53v1.53h-1.53zM242.25,864.90h1.53v1.53h-1.53zM251.43,864.90h1.53v1.53h-1.53zM256.03,864.90h1.53v1.53h-1.53zM260.62,864.90h1.53v1.53h-1.53zM263.68,864.90h1.53v1.53h-1.53zM266.74,864.90h3.06v1.53h-3.06zM271.34,864.90h3.06v1.53h-3.06zM231.53,866.43h4.59v1.53h-4.59zM242.25,866.43h1.53v1.53h-1.53zM245.31,866.43h3.06v1.53h-3.06zM249.90,866.43h3.06v1.53h-3.06zM254.50,866.43h1.53v1.53h-1.53zM259.09,866.43h1.53v1.53h-1.53zM265.21,866.43h9.19v1.53h-9.19zM233.06,867.96h1.53v1.53h-1.53zM236.12,867.96h4.59v1.53h-4.59zM242.25,867.96h1.53v1.53h-1.53zM245.31,867.96h1.53v1.53h-1.53zM249.90,867.96h1.53v1.53h-1.53zM252.97,867.96h1.53v1.53h-1.53zM259.09,867.96h1.53v1.53h-1.53zM262.15,867.96h1.53v1.53h-1.53zM265.21,867.96h1.53v1.53h-1.53zM272.87,867.96h1.53v1.53h-1.53zM230.00,869.49h6.12v1.53h-6.12zM237.66,869.49h1.53v1.53h-1.53zM242.25,869.49h12.25v1.53h-12.25zM257.56,869.49h1.53v1.53h-1.53zM262.15,869.49h6.12v1.53h-6.12zM269.81,869.49h3.06v1.53h-3.06zM230.00,871.02h1.53v1.53h-1.53zM234.59,871.02h1.53v1.53h-1.53zM237.66,871.02h3.06v1.53h-3.06zM257.56,871.02h1.53v1.53h-1.53zM260.62,871.02h7.66v1.53h-7.66zM269.81,871.02h4.59v1.53h-4.59zM243.78,872.55h3.06v1.53h-3.06zM248.37,872.55h1.53v1.53h-1.53zM251.43,872.55h6.12v1.53h-6.12zM260.62,872.55h1.53v1.53h-1.53zM266.74,872.55h1.53v1.53h-1.53zM269.81,872.55h1.53v1.53h-1.53zM272.87,872.55h1.53v1.53h-1.53zM230.00,874.08h10.72v1.53h-10.72zM243.78,874.08h3.06v1.53h-3.06zM248.37,874.08h3.06v1.53h-3.06zM252.97,874.08h9.19v1.53h-9.19zM263.68,874.08h1.53v1.53h-1.53zM266.74,874.08h7.66v1.53h-7.66zM230.00,875.61h1.53v1.53h-1.53zM239.19,875.61h1.53v1.53h-1.53zM243.78,875.61h3.06v1.53h-3.06zM248.37,875.61h3.06v1.53h-3.06zM252.97,875.61h1.53v1.53h-1.53zM256.03,875.61h1.53v1.53h-1.53zM260.62,875.61h1.53v1.53h-1.53zM266.74,875.61h3.06v1.53h-3.06zM272.87,875.61h1.53v1.53h-1.53zM230.00,877.14h1.53v1.53h-1.53zM233.06,877.14h4.59v1.53h-4.59zM239.19,877.14h1.53v1.53h-1.53zM243.78,877.14h3.06v1.53h-3.06zM248.37,877.14h1.53v1.53h-1.53zM260.62,877.14h10.72v1.53h-10.72zM272.87,877.14h1.53v1.53h-1.53zM230.00,878.68h1.53v1.53h-1.53zM233.06,878.68h4.59v1.53h-4.59zM239.19,878.68h1.53v1.53h-1.53zM242.25,878.68h1.53v1.53h-1.53zM245.31,878.68h1.53v1.53h-1.53zM251.43,878.68h3.06v1.53h-3.06zM256.03,878.68h7.66v1.53h-7.66zM265.21,878.68h1.53v1.53h-1.53zM269.81,878.68h1.53v1.53h-1.53zM272.87,878.68h1.53v1.53h-1.53zM230.00,880.21h1.53v1.53h-1.53zM233.06,880.21h4.59v1.53h-4.59zM239.19,880.21h1.53v1.53h-1.53zM242.25,880.21h1.53v1.53h-1.53zM245.31,880.21h1.53v1.53h-1.53zM248.37,880.21h3.06v1.53h-3.06zM259.09,880.21h13.78v1.53h-13.78zM230.00,881.74h1.53v1.53h-1.53zM239.19,881.74h1.53v1.53h-1.53zM249.90,881.74h3.06v1.53h-3.06zM256.03,881.74h9.19v1.53h-9.19zM269.81,881.74h3.06v1.53h-3.06zM230.00,883.27h10.72v1.53h-10.72zM243.78,883.27h1.53v1.53h-1.53zM249.90,883.27h1.53v1.53h-1.53zM252.97,883.27h3.06v1.53h-3.06zM263.68,883.27h3.06v1.53h-3.06zM272.87,883.27h1.53v1.53h-1.53z" fill="#1a1a1a"/>
<path d="M296.80,840.40h10.72v1.53h-10.72zM309.05,840.40h1.53v1.53h-1.53zM312.11,840.40h1.53v1.53h-1.53zM316.70,840.40h3.06v1.53h-3.06zM321.30,840.40h3.06v1.53h-3.06zM325.89,840.40h1.53v1.53h-1.53zM330.48,840.40h10.72v1.53h-10.72zM296.80,841.93h1.53v1.53h-1.53zM305.99,841.93h1.53v1.53h-1.53zM309.05,841.93h1.53v1.53h-1.53zM312.11,841.93h1.53v1.53h-1.53zM321.30,841.93h1.53v1.53h-1.53zM325.89,841.93h3.06v1.53h-3.06zM330.48,841.93h1.53v1.53h-1.53zM339.67,841.93h1.53v1.53h-1.53zM296.80,843.46h1.53v1.53h-1.53zM299.86,843.46h4.59v1.53h-4.59zM305.99,843.46h1.53v1.53h-1.53zM310.58,843.46h1.53v1.53h-1.53zM318.23,843.46h1.53v1.53h-1.53zM321.30,843.46h1.53v1.53h-1.53zM325.89,843.46h3.06v1.53h-3.06zM330.48,843.46h1.53v1.53h-1.53zM333.54,843.46h4.59v1.53h-4.59zM339.67,843.46h1.53v1.53h-1.53zM296.80,844.99h1.53v1.53h-1.53zM299.86,844.99h4.59v1.53h-4.59zM305.99,844.99h1.53v1.53h-1.53zM309.05,844.99h1.53v1.53h-1.53zM312.11,844.99h1.53v1.53h-1.53zM315.17,844.99h1.53v1.53h-1.53zM318.23,844.99h3.06v1.53h-3.06zM330.48,844.99h1.53v1.53h-1.53zM333.54,844.99h4.59v1.53h-4.59zM339.67,844.99h1.53v1.53h-1.53zM296.80,846.52h1.53v1.53h-1.53zM299.86,846.52h4.59v1.53h-4.59zM305.99,846.52h1.53v1.53h-1.53zM313.64,846.52h1.53v1.53h-1.53zM322.83,846.52h1.53v1.53h-1.53zM327.42,846.52h1.53v1.53h-1.53zM330.48,846.52h1.53v1.53h-1.53zM333.54,846.52h4.59v1.53h-4.59zM339.67,846.52h1.53v1.53h-1.53zM296.80,848.06h1.53v1.53h-1.53zM305.99,848.06h1.53v1.53h-1.53zM309.05,848.06h1.53v1.53h-1.53zM313.64,848.06h1.53v1.53h-1.53zM316.70,848.06h4.59v1.53h-4.59zM324.36,848.06h1.53v1.53h-1.53zM327.42,848.06h1.53v1.53h-1.53zM330.48,848.06h1.53v1.53h-1.53zM339.67,848.06h1.53v1.53h-1.53zM296.80,849.59h10.72v1.53h-10.72zM309.05,849.59h1.53v1.53h-1.53zM312.11,849.59h1.53v1.53h-1.53zM315.17,849.59h1.53v1.53h-1.53zM318.23,849.59h1.53v1.53h-1.53zM321.30,849.59h1.53v1.53h-1.53zM324.36,849.59h1.53v1.53h-1.53zM327.42,849.59h1.53v1.53h-1.53zM330.48,849.59h10.72v1.53h-10.72zM310.58,851.12h1.53v1.53h-1.53zM318.23,851.12h3.06v1.53h-3.06zM322.83,851.12h4.59v1.53h-4.59zM296.80,852.65h3.06v1.53h-3.06zM301.39,852.65h1.53v1.53h-1.53zM305.99,852.65h4.59v1.53h-4.59zM321.30,852.65h1.53v1.53h-1.53zM324.36,852.65h3.06v1.53h-3.06zM332.01,852.65h3.06v1.53h-3.06zM336.61,852.65h1.53v1.53h-1.53zM296.80,854.18h1.53v1.53h-1.53zM299.86,854.18h1.53v1.53h-1.53zM302.92,854.18h1.53v1.53h-1.53zM309.05,854.18h3.06v1.53h-3.06zM315.17,854.18h3.06v1.53h-3.06zM319.77,854.18h6.12v1.53h-6.12zM327.42,854.18h3.06v1.53h-3.06zM332.01,854.18h1.53v1.53h-1.53zM336.61,854.18h3.06v1.53h-3.06zM296.80,855.71h4.59v1.53h-4.59zM302.92,855.71h6.12v1.53h-6.12zM310.58,855.71h1.53v1.53h-1.53zM313.64,855.71h3.06v1.53h-3.06zM319.77,855.71h4.59v1.53h-4.59zM325.89,855.71h1.53v1.53h-1.53zM330.48,855.71h3.06v1.53h-3.06zM338.14,855.71h3.06v1.53h-3.06zM296.80,857.24h1.53v1.53h-1.53zM299.86,857.24h6.12v1.53h-6.12zM307.52,857.24h1.53v1.53h-1.53zM310.58,857.24h3.06v1.53h-3.06zM318.23,857.24h1.53v1.53h-1.53zM322.83,857.24h1.53v1.53h-1.53zM330.48,857.24h6.12v1.53h-6.12zM338.14,857.24h1.53v1.53h-1.53zM296.80,858.77h1.53v1.53h-1.53zM305.99,858.77h1.53v1.53h-1.53zM309.05,858.77h1.53v1.53h-1.53zM312.11,858.77h3.06v1.53h-3.06zM318.23,858.77h1.53v1.53h-1.53zM322.83,858.77h3.06v1.53h-3.06zM327.42,858.77h1.53v1.53h-1.53zM330.48,858.77h3.06v1.53h-3.06zM336.61,858.77h1.53v1.53h-1.53zM299.86,860.30h1.53v1.53h-1.53zM304.46,860.30h1.53v1.53h-1.53zM307.52,860.30h3.06v1.53h-3.06zM312.11,860.30h3.06v1.53h-3.06zM316.70,860.30h7.66v1.53h-7.66zM327.42,860.30h1.53v1.53h-1.53zM330.48,860.30h4.59v1.53h-4.59zM338.14,860.30h3.06v1.53h-3.06zM296.80,861.83h3.06v1.53h-3.06zM302.92,861.83h7.66v1.53h-7.66zM313.64,861.83h1.53v1.53h-1.53zM318.23,861.83h4.59v1.53h-4.59zM324.36,861.83h1.53v1.53h-1.53zM327.42,861.83h3.06v1.53h-3.06zM333.54,861.83h4.59v1.53h-4.59zM296.80,863.37h1.53v1.53h-1.53zM301.39,863.37h4.59v1.53h-4.59zM318.23,863.37h1.53v1.53h-1.53zM321.30,863.37h3.06v1.53h-3.06zM325.89,863.37h4.59v1.53h-4.59zM332.01,863.37h3.06v1.53h-3.06zM336.61,863.37h1.53v1.53h-1.53zM302.92,864.90h1.53v1.53h-1.53zM305.99,864.90h1.53v1.53h-1.53zM310.58,864.90h1.53v1.53h-1.53zM315.17,864.90h3.06v1.53h-3.06zM321.30,864.90h4.59v1.53h-4.59zM328.95,864.90h9.19v1.53h-9.19zM296.80,866.43h1.53v1.53h-1.53zM299.86,866.43h1.53v1.53h-1.53zM309.05,866.43h1.53v1.53h-1.53zM313.64,866.43h3.06v1.53h-3.06zM321.30,866.43h1.53v1.53h-1.53zM324.36,866.43h4.59v1.53h-4.59zM330.48,866.43h3.06v1.53h-3.06zM336.61,866.43h1.53v1.53h-1.53zM339.67,866.43h1.53v1.53h-1.53zM299.86,867.96h13.78v1.53h-13.78zM315.17,867.96h1.53v1.53h-1.53zM318.23,867.96h1.53v1.53h-1.53zM321.30,867.96h1.53v1.53h-1.53zM327.42,867.96h1.53v1.53h-1.53zM332.01,867.96h1.53v1.53h-1.53zM336.61,867.96h4.59v1.53h-4.59zM302.92,869.49h3.06v1.53h-3.06zM307.52,869.49h3.06v1.53h-3.06zM315.17,869.49h1.53v1.53h-1.53zM318.23,869.49h3.06v1.53h-3.06zM322.83,869.49h3.06v1.53h-3.06zM327.42,869.49h3.06v1.53h-3.06zM333.54,869.49h7.66v1.53h-7.66zM299.86,871.02h1.53v1.53h-1.53zM302.92,871.02h4.59v1.53h-4.59zM309.05,871.02h1.53v1.53h-1.53zM313.64,871.02h1.53v1.53h-1.53zM316.70,871.02h1.53v1.53h-1.53zM321.30,871.02h1.53v1.53h-1.53zM327.42,871.02h9.19v1.53h-9.19zM310.58,872.55h4.59v1.53h-4.59zM319.77,872.55h1.53v1.53h-1.53zM324.36,872.55h1.53v1.53h-1.53zM327.42,872.55h1.53v1.53h-1.53zM333.54,872.55h1.53v1.53h-1.53zM336.61,872.55h1.53v1.53h-1.53zM339.67,872.55h1.53v1.53h-1.53zM296.80,874.08h10.72v1.53h-10.72zM309.05,874.08h1.53v1.53h-1.53zM316.70,874.08h6.12v1.53h-6.12zM327.42,874.08h1.53v1.53h-1.53zM330.48,874.08h1.53v1.53h-1.53zM333.54,874.08h1.53v1.53h-1.53zM336.61,874.08h4.59v1.53h-4.59zM296.80,875.61h1.53v1.53h-1.53zM305.99,875.61h1.53v1.53h-1.53zM310.58,875.61h1.53v1.53h-1.53zM313.64,875.61h1.53v1.53h-1.53zM316.70,875.61h4.59v1.53h-4.59zM324.36,875.61h1.53v1.53h-1.53zM327.42,875.61h1.53v1.53h-1.53zM333.54,875.61h7.66v1.53h-7.66zM296.80,877.14h1.53v1.53h-1.53zM299.86,877.14h4.59v1.53h-4.59zM305.99,877.14h1.53v1.53h-1.53zM312.11,877.14h4.59v1.53h-4.59zM322.83,877.14h12.25v1.53h-12.25zM338.14,877.14h3.06v1.53h-3.06zM296.80,878.68h1.53v1.53h-1.53zM299.86,878.68h4.59v1.53h-4.59zM305.99,878.68h1.53v1.53h-1.53zM310.58,878.68h1.53v1.53h-1.53zM316.70,878.68h1.53v1.53h-1.53zM325.89,878.68h1.53v1.53h-1.53zM328.95,878.68h1.53v1.53h-1.53zM333.54,878.68h1.53v1.53h-1.53zM338.14,878.68h1.53v1.53h-1.53zM296.80,880.21h1.53v1.53h-1.53zM299.86,880.21h4.59v1.53h-4.59zM305.99,880.21h1.53v1.53h-1.53zM309.05,880.21h3.06v1.53h-3.06zM313.64,880.21h1.53v1.53h-1.53zM318.23,880.21h1.53v1.53h-1.53zM324.36,880.21h1.53v1.53h-1.53zM328.95,880.21h6.12v1.53h-6.12zM338.14,880.21h1.53v1.53h-1.53zM296.80,881.74h1.53v1.53h-1.53zM305.99,881.74h1.53v1.53h-1.53zM310.58,881.74h1.53v1.53h-1.53zM319.77,881.74h1.53v1.53h-1.53zM325.89,881.74h1.53v1.53h-1.53zM328.95,881.74h10.72v1.53h-10.72zM296.80,883.27h10.72v1.53h-10.72zM310.58,883.27h1.53v1.53h-1.53zM313.64,883.27h3.06v1.53h-3.06zM318.23,883.27h3.06v1.53h-3.06zM324.36,883.27h3.06v1.53h-3.06zM330.48,883.27h4.59v1.53h-4.59zM336.61,883.27h4.59v1.53h-4.59z" fill="#1a1a1a"/>
<path d="M163.80,921.50h10.72v1.53h-10.72zM176.05,921.50h9.19v1.53h-9.19zM189.83,921.50h1.53v1.53h-1.53zM192.89,921.50h3.06v1.53h-3.06zM197.48,921.50h10.72v1.53h-10.72zM163.80,923.03h1.53v1.53h-1.53zM172.99,923.03h1.53v1.53h-1.53zM176.05,923.03h3.06v1.53h-3.06zM185.23,923.03h3.06v1.53h-3.06zM194.42,923.03h1.53v1.53h-1.53zM197.48,923.03h1.53v1.53h-1.53zM206.67,923.03h1.53v1.53h-1.53zM163.80,924.56h1.53v1.53h-1.53zM166.86,924.56h4.59v1.53h-4.59zM172.99,924.56h1.53v1.53h-1.53zM180.64,924.56h4.59v1.53h-4.59zM189.83,924.56h1.53v1.53h-1.53zM197.48,924.56h1.53v1.53h-1.53zM200.54,924.56h4.59v1.53h-4.59zM206.67,924.56h1.53v1.53h-1.53zM163.80,926.09h1.53v1.53h-1.53zM166.86,926.09h4.59v1.53h-4.59zM172.99,926.09h1.53v1.53h-1.53zM179.11,926.09h1.53v1.53h-1.53zM182.17,926.09h4.59v1.53h-4.59zM188.30,926.09h3.06v1.53h-3.06zM192.89,926.09h1.53v1.53h-1.53zM197.48,926.09h1.53v1.53h-1.53zM200.54,926.09h4.59v1.53h-4.59zM206.67,926.09h1.53v1.53h-1.53zM163.80,927.62h1.53v1.53h-1.53zM166.86,927.62h4.59v1.53h-4.59zM172.99,927.62h1.53v1.53h-1.53zM176.05,927.62h3.06v1.53h-3.06zM180.64,927.62h4.59v1.53h-4.59zM186.77,927.62h3.06v1.53h-3.06zM191.36,927.62h1.53v1.53h-1.53zM197.48,927.62h1.53v1.53h-1.53zM200.54,927.62h4.59v1.53h-4.59zM206.67,927.62h1.53v1.53h-1.53zM163.80,929.16h1.53v1.53h-1.53zM172.99,929.16h1.53v1.53h-1.53zM176.05,929.16h4.59v1.53h-4.59zM183.70,929.16h7.66v1.53h-7.66zM197.48,929.16h1.53v1.53h-1.53zM206.67,929.16h1.53v1.53h-1.53zM163.80,930.69h10.72v1.53h-10.72zM176.05,930.69h1.53v1.53h-1.53zM179.11,930.69h1.53v1.53h-1.53zM182.17,930.69h1.53v1.53h-1.53zM185.23,930.69h1.53v1.53h-1.53zM188.30,930.69h1.53v1.53h-1.53zM191.36,930.69h1.53v1.53h-1.53zM194.42,930.69h1.53v1.53h-1.53zM197.48,930.69h10.72v1.53h-10.72zM179.11,932.22h3.06v1.53h-3.06zM185.23,932.22h1.53v1.53h-1.53zM191.36,932.22h4.59v1.53h-4.59zM163.80,933.75h3.06v1.53h-3.06zM168.39,933.75h7.66v1.53h-7.66zM177.58,933.75h4.59v1.53h-4.59zM183.70,933.75h7.66v1.53h-7.66zM192.89,933.75h6.12v1.53h-6.12zM200.54,933.75h1.53v1.53h-1.53zM205.14,933.75h1.53v1.53h-1.53zM163.80,935.28h9.19v1.53h-9.19zM177.58,935.28h9.19v1.53h-9.19zM188.30,935.28h3.06v1.53h-3.06zM195.95,935.28h1.53v1.53h-1.53zM203.61,935.28h4.59v1.53h-4.59zM168.39,936.81h1.53v1.53h-1.53zM172.99,936.81h1.53v1.53h-1.53zM182.17,936.81h1.53v1.53h-1.53zM186.77,936.81h1.53v1.53h-1.53zM192.89,936.81h1.53v1.53h-1.53zM195.95,936.81h1.53v1.53h-1.53zM200.54,936.81h3.06v1.53h-3.06zM165.33,938.34h3.06v1.53h-3.06zM169.92,938.34h1.53v1.53h-1.53zM174.52,938.34h1.53v1.53h-1.53zM183.70,938.34h1.53v1.53h-1.53zM186.77,938.34h1.53v1.53h-1.53zM191.36,938.34h1.53v1.53h-1.53zM194.42,938.34h3.06v1.53h-3.06zM199.01,938.34h1.53v1.53h-1.53zM203.61,938.34h3.06v1.53h-3.06zM165.33,939.87h1.53v1.53h-1.53zM169.92,939.87h1.53v1.53h-1.53zM172.99,939.87h3.06v1.53h-3.06zM177.58,939.87h4.59v1.53h-4.59zM183.70,939.87h3.06v1.53h-3.06zM191.36,939.87h1.53v1.53h-1.53zM195.95,939.87h1.53v1.53h-1.53zM199.01,939.87h3.06v1.53h-3.06zM203.61,939.87h1.53v1.53h-1.53zM206.67,939.87h1.53v1.53h-1.53zM165.33,941.40h6.12v1.53h-6.12zM177.58,941.40h3.06v1.53h-3.06zM182.17,941.40h1.53v1.53h-1.53zM185.23,941.40h4.59v1.53h-4.59zM191.36,941.40h1.53v1.53h-1.53zM200.54,941.40h1.53v1.53h-1.53zM203.61,941.40h1.53v1.53h-1.53zM206.67,941.40h1.53v1.53h-1.53zM168.39,942.93h3.06v1.53h-3.06zM172.99,942.93h3.06v1.53h-3.06zM177.58,942.93h4.59v1.53h-4.59zM183.70,942.93h1.53v1.53h-1.53zM186.77,942.93h1.53v1.53h-1.53zM189.83,942.93h1.53v1.53h-1.53zM192.89,942.93h3.06v1.53h-3.06zM197.48,942.93h1.53v1.53h-1.53zM200.54,942.93h6.12v1.53h-6.12zM169.92,944.47h1.53v1.53h-1.53zM174.52,944.47h1.53v1.53h-1.53zM182.17,944.47h1.53v1.53h-1.53zM191.36,944.47h1.53v1.53h-1.53zM194.42,944.47h1.53v1.53h-1.53zM200.54,944.47h4.59v1.53h-4.59zM165.33,946.00h3.06v1.53h-3.06zM169.92,946.00h7.66v1.53h-7.66zM182.17,946.00h1.53v1.53h-1.53zM186.77,946.00h3.06v1.53h-3.06zM195.95,946.00h6.12v1.53h-6.12zM206.67,946.00h1.53v1.53h-1.53zM163.80,947.53h3.06v1.53h-3.06zM168.39,947.53h1.53v1.53h-1.53zM177.58,947.53h1.53v1.53h-1.53zM180.64,947.53h9.19v1.53h-9.19zM191.36,947.53h1.53v1.53h-1.53zM166.86,949.06h1.53v1.53h-1.53zM169.92,949.06h6.12v1.53h-6.12zM177.58,949.06h3.06v1.53h-3.06zM183.70,949.06h6.12v1.53h-6.12zM191.36,949.06h1.53v1.53h-1.53zM194.42,949.06h3.06v1.53h-3.06zM200.54,949.06h1.53v1.53h-1.53zM203.61,949.06h1.53v1.53h-1.53zM206.67,949.06h1.53v1.53h-1.53zM171.46,950.59h1.53v1.53h-1.53zM179.11,950.59h1.53v1.53h-1.53zM183.70,950.59h1.53v1.53h-1.53zM189.83,950.59h1.53v1.53h-1.53zM192.89,950.59h1.53v1.53h-1.53zM197.48,950.59h1.53v1.53h-1.53zM202.08,950.59h1.53v1.53h-1.53zM172.99,952.12h4.59v1.53h-4.59zM179.11,952.12h1.53v1.53h-1.53zM183.70,952.12h4.59v1.53h-4.59zM192.89,952.12h9.19v1.53h-9.19zM206.67,952.12h1.53v1.53h-1.53zM180.64,953.65h1.53v1.53h-1.53zM183.70,953.65h6.12v1.53h-6.12zM194.42,953.65h1.53v1.53h-1.53zM200.54,953.65h4.59v1.53h-4.59zM206.67,953.65h1.53v1.53h-1.53zM163.80,955.18h10.72v1.53h-10.72zM176.05,955.18h1.53v1.53h-1.53zM182.17,955.18h1.53v1.53h-1.53zM188.30,955.18h4.59v1.53h-4.59zM194.42,955.18h1.53v1.53h-1.53zM197.48,955.18h1.53v1.53h-1.53zM200.54,955.18h1.53v1.53h-1.53zM203.61,955.18h1.53v1.53h-1.53zM206.67,955.18h1.53v1.53h-1.53zM163.80,956.71h1.53v1.53h-1.53zM172.99,956.71h1.53v1.53h-1.53zM179.11,956.71h1.53v1.53h-1.53zM182.17,956.71h1.53v1.53h-1.53zM185.23,956.71h4.59v1.53h-4.59zM191.36,956.71h1.53v1.53h-1.53zM194.42,956.71h1.53v1.53h-1.53zM200.54,956.71h3.06v1.53h-3.06zM205.14,956.71h3.06v1.53h-3.06zM163.80,958.24h1.53v1.53h-1.53zM166.86,958.24h4.59v1.53h-4.59zM172.99,958.24h1.53v1.53h-1.53zM176.05,958.24h1.53v1.53h-1.53zM182.17,958.24h6.12v1.53h-6.12zM189.83,958.24h3.06v1.53h-3.06zM194.42,958.24h9.19v1.53h-9.19zM205.14,958.24h1.53v1.53h-1.53zM163.80,959.78h1.53v1.53h-1.53zM166.86,959.78h4.59v1.53h-4.59zM172.99,959.78h1.53v1.53h-1.53zM179.11,959.78h1.53v1.53h-1.53zM182.17,959.78h1.53v1.53h-1.53zM185.23,959.78h1.53v1.53h-1.53zM188.30,959.78h7.66v1.53h-7.66zM199.01,959.78h1.53v1.53h-1.53zM202.08,959.78h3.06v1.53h-3.06zM163.80,961.31h1.53v1.53h-1.53zM166.86,961.31h4.59v1.53h-4.59zM172.99,961.31h1.53v1.53h-1.53zM179.11,961.31h1.53v1.53h-1.53zM186.77,961.31h6.12v1.53h-6.12zM195.95,961.31h1.53v1.53h-1.53zM202.08,961.31h6.12v1.53h-6.12zM163.80,962.84h1.53v1.53h-1.53zM172.99,962.84h1.53v1.53h-1.53zM177.58,962.84h1.53v1.53h-1.53zM180.64,962.84h3.06v1.53h-3.06zM186.77,962.84h3.06v1.53h-3.06zM191.36,962.84h4.59v1.53h-4.59zM200.54,962.84h4.59v1.53h-4.59zM206.67,962.84h1.53v1.53h-1.53zM163.80,964.37h10.72v1.53h-10.72zM176.05,964.37h10.72v1.53h-10.72zM189.83,964.37h4.59v1.53h-4.59zM197.48,964.37h1.53v1.53h-1.53zM202.08,964.37h1.53v1.53h-1.53z" fill="#1a1a1a"/>
<path d="M230.00,921.50h10.72v1.53h-10.72zM251.43,921.50h3.06v1.53h-3.06zM259.09,921.50h3.06v1.53h-3.06zM263.68,921.50h10.72v1.53h-10.72zM230.00,923.03h1.53v1.53h-1.53zM239.19,923.03h1.53v1.53h-1.53zM242.25,923.03h1.53v1.53h-1.53zM246.84,923.03h4.59v1.53h-4.59zM254.50,923.03h1.53v1.53h-1.53zM257.56,923.03h1.53v1.53h-1.53zM260.62,923.03h1.53v1.53h-1.53zM263.68,923.03h1.53v1.53h-1.53zM272.87,923.03h1.53v1.53h-1.53zM230.00,924.56h1.53v1.53h-1.53zM233.06,924.56h4.59v1.53h-4.59zM239.19,924.56h1.53v1.53h-1.53zM242.25,924.56h1.53v1.53h-1.53zM245.31,924.56h3.06v1.53h-3.06zM251.43,924.56h1.53v1.53h-1.53zM257.56,924.56h1.53v1.53h-1.53zM263.68,924.56h1.53v1.53h-1.53zM266.74,924.56h4.59v1.53h-4.59zM272.87,924.56h1.53v1.53h-1.53zM230.00,926.09h1.53v1.53h-1.53zM233.06,926.09h4.59v1.53h-4.59zM239.19,926.09h1.53v1.53h-1.53zM245.31,926.09h9.19v1.53h-9.19zM256.03,926.09h1.53v1.53h-1.53zM259.09,926.09h3.06v1.53h-3.06zM263.68,926.09h1.53v1.53h-1.53zM266.74,926.09h4.59v1.53h-4.59zM272.87,926.09h1.53v1.53h-1.53zM230.00,927.62h1.53v1.53h-1.53zM233.06,927.62h4.59v1.53h-4.59zM239.19,927.62h1.53v1.53h-1.53zM243.78,927.62h4.59v1.53h-4.59zM249.90,927.62h1.53v1.53h-1.53zM252.97,927.62h1.53v1.53h-1.53zM257.56,927.62h1.53v1.53h-1.53zM260.62,927.62h1.53v1.53h-1.53zM263.68,927.62h1.53v1.53h-1.53zM266.74,927.62h4.59v1.53h-4.59zM272.87,927.62h1.53v1.53h-1.53zM230.00,929.16h1.53v1.53h-1.53zM239.19,929.16h1.53v1.53h-1.53zM243.78,929.16h4.59v1.53h-4.59zM249.90,929.16h1.53v1.53h-1.53zM256.03,929.16h3.06v1.53h-3.06zM263.68,929.16h1.53v1.53h-1.53zM272.87,929.16h1.53v1.53h-1.53zM230.00,930.69h10.72v1.53h-10.72zM242.25,930.69h1.53v1.53h-1.53zM245.31,930.69h1.53v1.53h-1.53zM248.37,930.69h1.53v1.53h-1.53zM251.43,930.69h1.53v1.53h-1.53zM254.50,930.69h1.53v1.53h-1.53zM257.56,930.69h1.53v1.53h-1.53zM260.62,930.69h1.53v1.53h-1.53zM263.68,930.69h10.72v1.53h-10.72zM242.25,932.22h1.53v1.53h-1.53zM248.37,932.22h1.53v1.53h-1.53zM251.43,932.22h3.06v1.53h-3.06zM257.56,932.22h1.53v1.53h-1.53zM230.00,933.75h7.66v1.53h-7.66zM239.19,933.75h1.53v1.53h-1.53zM242.25,933.75h3.06v1.53h-3.06zM248.37,933.75h3.06v1.53h-3.06zM254.50,933.75h4.59v1.53h-4.59zM260.62,933.75h3.06v1.53h-3.06zM265.21,933.75h1.53v1.53h-1.53zM272.87,933.75h1.53v1.53h-1.53zM230.00,935.28h3.06v1.53h-3.06zM234.59,935.28h3.06v1.53h-3.06zM243.78,935.28h3.06v1.53h-3.06zM248.37,935.28h7.66v1.53h-7.66zM260.62,935.28h6.12v1.53h-6.12zM269.81,935.28h1.53v1.53h-1.53zM234.59,936.81h1.53v1.53h-1.53zM237.66,936.81h4.59v1.53h-4.59zM245.31,936.81h1.53v1.53h-1.53zM251.43,936.81h1.53v1.53h-1.53zM254.50,936.81h1.53v1.53h-1.53zM257.56,936.81h1.53v1.53h-1.53zM263.68,936.81h1.53v1.53h-1.53zM269.81,936.81h1.53v1.53h-1.53zM237.66,938.34h1.53v1.53h-1.53zM243.78,938.34h1.53v1.53h-1.53zM249.90,938.34h1.53v1.53h-1.53zM256.03,938.34h1.53v1.53h-1.53zM263.68,938.34h4.59v1.53h-4.59zM269.81,938.34h1.53v1.53h-1.53zM230.00,939.87h18.37v1.53h-18.37zM251.43,939.87h1.53v1.53h-1.53zM254.50,939.87h7.66v1.53h-7.66zM263.68,939.87h3.06v1.53h-3.06zM268.28,939.87h1.53v1.53h-1.53zM271.34,939.87h1.53v1.53h-1.53zM233.06,941.40h1.53v1.53h-1.53zM237.66,941.40h1.53v1.53h-1.53zM240.72,941.40h1.53v1.53h-1.53zM249.90,941.40h1.53v1.53h-1.53zM252.97,941.40h3.06v1.53h-3.06zM259.09,941.40h1.53v1.53h-1.53zM263.68,941.40h6.12v1.53h-6.12zM271.34,941.40h1.53v1.53h-1.53zM233.06,942.93h1.53v1.53h-1.53zM236.12,942.93h6.12v1.53h-6.12zM243.78,942.93h6.12v1.53h-6.12zM251.43,942.93h3.06v1.53h-3.06zM257.56,942.93h1.53v1.53h-1.53zM260.62,942.93h1.53v1.53h-1.53zM265.21,942.93h4.59v1.53h-4.59zM271.34,942.93h1.53v1.53h-1.53zM230.00,944.47h1.53v1.53h-1.53zM236.12,944.47h1.53v1.53h-1.53zM240.72,944.47h1.53v1.53h-1.53zM243.78,944.47h3.06v1.53h-3.06zM248.37,944.47h3.06v1.53h-3.06zM254.50,944.47h4.59v1.53h-4.59zM263.68,944.47h1.53v1.53h-1.53zM266.74,944.47h1.53v1.53h-1.53zM272.87,944.47h1.53v1.53h-1.53zM231.53,946.00h3.06v1.53h-3.06zM236.12,946.00h4.59v1.53h-4.59zM242.25,946.00h1.53v1.53h-1.53zM246.84,946.00h3.06v1.53h-3.06zM252.97,946.00h3.06v1.53h-3.06zM257.56,946.00h4.59v1.53h-4.59zM265.21,946.00h3.06v1.53h-3.06zM272.87,946.00h1.53v1.53h-1.53zM236.12,947.53h1.53v1.53h-1.53zM240.72,947.53h1.53v1.53h-1.53zM246.84,947.53h3.06v1.53h-3.06zM251.43,947.53h1.53v1.53h-1.53zM254.50,947.53h3.06v1.53h-3.06zM259.09,947.53h7.66v1.53h-7.66zM271.34,947.53h3.06v1.53h-3.06zM230.00,949.06h1.53v1.53h-1.53zM233.06,949.06h1.53v1.53h-1.53zM236.12,949.06h4.59v1.53h-4.59zM242.25,949.06h1.53v1.53h-1.53zM251.43,949.06h1.53v1.53h-1.53zM254.50,949.06h1.53v1.53h-1.53zM259.09,949.06h4.59v1.53h-4.59zM265.21,949.06h1.53v1.53h-1.53zM269.81,949.06h1.53v1.53h-1.53zM272.87,949.06h1.53v1.53h-1.53zM230.00,950.59h1.53v1.53h-1.53zM233.06,950.59h1.53v1.53h-1.53zM236.12,950.59h3.06v1.53h-3.06zM242.25,950.59h1.53v1.53h-1.53zM245.31,950.59h3.06v1.53h-3.06zM251.43,950.59h3.06v1.53h-3.06zM259.09,950.59h1.53v1.53h-1.53zM262.15,950.59h4.59v1.53h-4.59zM268.28,950.59h4.59v1.53h-4.59zM233.06,952.12h1.53v1.53h-1.53zM239.19,952.12h1.53v1.53h-1.53zM243.78,952.12h7.66v1.53h-7.66zM252.97,952.12h1.53v1.53h-1.53zM256.03,952.12h3.06v1.53h-3.06zM260.62,952.12h7.66v1.53h-7.66zM269.81,952.12h4.59v1.53h-4.59zM242.25,953.65h6.12v1.53h-6.12zM249.90,953.65h12.25v1.53h-12.25zM266.74,953.65h3.06v1.53h-3.06zM271.34,953.65h1.53v1.53h-1.53zM230.00,955.18h10.72v1.53h-10.72zM245.31,955.18h1.53v1.53h-1.53zM248.37,955.18h1.53v1.53h-1.53zM251.43,955.18h1.53v1.53h-1.53zM256.03,955.18h6.12v1.53h-6.12zM263.68,955.18h1.53v1.53h-1.53zM266.74,955.18h6.12v1.53h-6.12zM230.00,956.71h1.53v1.53h-1.53zM239.19,956.71h1.53v1.53h-1.53zM242.25,956.71h6.12v1.53h-6.12zM251.43,956.71h3.06v1.53h-3.06zM259.09,956.71h3.06v1.53h-3.06zM266.74,956.71h1.53v1.53h-1.53zM269.81,956.71h3.06v1.53h-3.06zM230.00,958.24h1.53v1.53h-1.53zM233.06,958.24h4.59v1.53h-4.59zM239.19,958.24h1.53v1.53h-1.53zM242.25,958.24h3.06v1.53h-3.06zM249.90,958.24h4.59v1.53h-4.59zM256.03,958.24h1.53v1.53h-1.53zM259.09,958.24h15.31v1.53h-15.31zM230.00,959.78h1.53v1.53h-1.53zM233.06,959.78h4.59v1.53h-4.59zM239.19,959.78h1.53v1.53h-1.53zM242.25,959.78h7.66v1.53h-7.66zM251.43,959.78h1.53v1.53h-1.53zM254.50,959.78h1.53v1.53h-1.53zM257.56,959.78h4.59v1.53h-4.59zM268.28,959.78h3.06v1.53h-3.06zM272.87,959.78h1.53v1.53h-1.53zM230.00,961.31h1.53v1.53h-1.53zM233.06,961.31h4.59v1.53h-4.59zM239.19,961.31h1.53v1.53h-1.53zM243.78,961.31h1.53v1.53h-1.53zM249.90,961.31h3.06v1.53h-3.06zM254.50,961.31h6.12v1.53h-6.12zM263.68,961.31h9.19v1.53h-9.19zM230.00,962.84h1.53v1.53h-1.53zM239.19,962.84h1.53v1.53h-1.53zM242.25,962.84h3.06v1.53h-3.06zM246.84,962.84h10.72v1.53h-10.72zM266.74,962.84h1.53v1.53h-1.53zM230.00,964.37h10.72v1.53h-10.72zM243.78,964.37h1.53v1.53h-1.53zM246.84,964.37h7.66v1.53h-7.66zM256.03,964.37h3.06v1.53h-3.06zM262.15,964.37h6.12v1.53h-6.12zM272.87,964.37h1.53v1.53h-1.53z" fill="#1a1a1a"/>
<path d="M296.80,921.50h10.72v1.53h-10.72zM312.11,921.50h4.59v1.53h-4.59zM318.23,921.50h1.53v1.53h-1.53zM321.30,921.50h1.53v1.53h-1.53zM324.36,921.50h1.53v1.53h-1.53zM330.48,921.50h10.72v1.53h-10.72zM296.80,923.03h1.53v1.53h-1.53zM305.99,923.03h1.53v1.53h-1.53zM309.05,923.03h1.53v1.53h-1.53zM313.64,923.03h1.53v1.53h-1.53zM318.23,923.03h1.53v1.53h-1.53zM324.36,923.03h3.06v1.53h-3.06zM330.48,923.03h1.53v1.53h-1.53zM339.67,923.03h1.53v1.53h-1.53zM296.80,924.56h1.53v1.53h-1.53zM299.86,924.56h4.59v1.53h-4.59zM305.99,924.56h1.53v1.53h-1.53zM310.58,924.56h4.59v1.53h-4.59zM316.70,924.56h1.53v1.53h-1.53zM321.30,924.56h1.53v1.53h-1.53zM324.36,924.56h1.53v1.53h-1.53zM330.48,924.56h1.53v1.53h-1.53zM333.54,924.56h4.59v1.53h-4.59zM339.67,924.56h1.53v1.53h-1.53zM296.80,926.09h1.53v1.53h-1.53zM299.86,926.09h4.59v1.53h-4.59zM305.99,926.09h1.53v1.53h-1.53zM316.70,926.09h3.06v1.53h-3.06zM321.30,926.09h1.53v1.53h-1.53zM324.36,926.09h1.53v1.53h-1.53zM330.48,926.09h1.53v1.53h-1.53zM333.54,926.09h4.59v1.53h-4.59zM339.67,926.09h1.53v1.53h-1.53zM296.80,927.62h1.53v1.53h-1.53zM299.86,927.62h4.59v1.53h-4.59zM305.99,927.62h1.53v1.53h-1.53zM309.05,927.62h1.53v1.53h-1.53zM312.11,927.62h7.66v1.53h-7.66zM322.83,927.62h1.53v1.53h-1.53zM325.89,927.62h3.06v1.53h-3.06zM330.48,927.62h1.53v1.53h-1.53zM333.54,927.62h4.59v1.53h-4.59zM339.67,927.62h1.53v1.53h-1.53zM296.80,929.16h1.53v1.53h-1.53zM305.99,929.16h1.53v1.53h-1.53zM312.11,929.16h6.12v1.53h-6.12zM319.77,929.16h3.06v1.53h-3.06zM324.36,929.16h1.53v1.53h-1.53zM327.42,929.16h1.53v1.53h-1.53zM330.48,929.16h1.53v1.53h-1.53zM339.67,929.16h1.53v1.53h-1.53zM296.80,930.69h10.72v1.53h-10.72zM309.05,930.69h1.53v1.53h-1.53zM312.11,930.69h1.53v1.53h-1.53zM315.17,930.69h1.53v1.53h-1.53zM318.23,930.69h1.53v1.53h-1.53zM321.30,930.69h1.53v1.53h-1.53zM324.36,930.69h1.53v1.53h-1.53zM327.42,930.69h1.53v1.53h-1.53zM330.48,930.69h10.72v1.53h-10.72zM315.17,932.22h1.53v1.53h-1.53zM321.30,932.22h1.53v1.53h-1.53zM324.36,932.22h3.06v1.53h-3.06zM296.80,933.75h3.06v1.53h-3.06zM301.39,933.75h6.12v1.53h-6.12zM309.05,933.75h4.59v1.53h-4.59zM315.17,933.75h3.06v1.53h-3.06zM321.30,933.75h9.19v1.53h-9.19zM332.01,933.75h1.53v1.53h-1.53zM338.14,933.75h1.53v1.53h-1.53zM296.80,935.28h4.59v1.53h-4.59zM304.46,935.28h1.53v1.53h-1.53zM307.52,935.28h6.12v1.53h-6.12zM315.17,935.28h1.53v1.53h-1.53zM318.23,935.28h1.53v1.53h-1.53zM322.83,935.28h3.06v1.53h-3.06zM328.95,935.28h1.53v1.53h-1.53zM333.54,935.28h7.66v1.53h-7.66zM299.86,936.81h1.53v1.53h-1.53zM302.92,936.81h4.59v1.53h-4.59zM309.05,936.81h1.53v1.53h-1.53zM315.17,936.81h1.53v1.53h-1.53zM318.23,936.81h1.53v1.53h-1.53zM325.89,936.81h1.53v1.53h-1.53zM330.48,936.81h1.53v1.53h-1.53zM335.08,936.81h1.53v1.53h-1.53zM338.14,936.81h3.06v1.53h-3.06zM298.33,938.34h1.53v1.53h-1.53zM302.92,938.34h1.53v1.53h-1.53zM307.52,938.34h1.53v1.53h-1.53zM310.58,938.34h1.53v1.53h-1.53zM313.64,938.34h1.53v1.53h-1.53zM316.70,938.34h3.06v1.53h-3.06zM324.36,938.34h6.12v1.53h-6.12zM336.61,938.34h3.06v1.53h-3.06zM296.80,939.87h1.53v1.53h-1.53zM299.86,939.87h7.66v1.53h-7.66zM309.05,939.87h1.53v1.53h-1.53zM312.11,939.87h4.59v1.53h-4.59zM318.23,939.87h4.59v1.53h-4.59zM325.89,939.87h6.12v1.53h-6.12zM336.61,939.87h4.59v1.53h-4.59zM296.80,941.40h3.06v1.53h-3.06zM310.58,941.40h1.53v1.53h-1.53zM315.17,941.40h1.53v1.53h-1.53zM318.23,941.40h4.59v1.53h-4.59zM324.36,941.40h1.53v1.53h-1.53zM327.42,941.40h4.59v1.53h-4.59zM335.08,941.40h1.53v1.53h-1.53zM339.67,941.40h1.53v1.53h-1.53zM296.80,942.93h1.53v1.53h-1.53zM301.39,942.93h1.53v1.53h-1.53zM304.46,942.93h4.59v1.53h-4.59zM310.58,942.93h1.53v1.53h-1.53zM319.77,942.93h4.59v1.53h-4.59zM328.95,942.93h1.53v1.53h-1.53zM332.01,942.93h1.53v1.53h-1.53zM298.33,944.47h1.53v1.53h-1.53zM301.39,944.47h4.59v1.53h-4.59zM309.05,944.47h1.53v1.53h-1.53zM313.64,944.47h1.53v1.53h-1.53zM316.70,944.47h7.66v1.53h-7.66zM325.89,944.47h1.53v1.53h-1.53zM328.95,944.47h6.12v1.53h-6.12zM336.61,944.47h1.53v1.53h-1.53zM298.33,946.00h4.59v1.53h-4.59zM304.46,946.00h4.59v1.53h-4.59zM316.70,946.00h1.53v1.53h-1.53zM319.77,946.00h1.53v1.53h-1.53zM327.42,946.00h1.53v1.53h-1.53zM332.01,946.00h1.53v1.53h-1.53zM338.14,946.00h3.06v1.53h-3.06zM296.80,947.53h3.06v1.53h-3.06zM301.39,947.53h4.59v1.53h-4.59zM307.52,947.53h1.53v1.53h-1.53zM313.64,947.53h4.59v1.53h-4.59zM327.42,947.53h3.06v1.53h-3.06zM339.67,947.53h1.53v1.53h-1.53zM296.80,949.06h3.06v1.53h-3.06zM302.92,949.06h1.53v1.53h-1.53zM305.99,949.06h3.06v1.53h-3.06zM312.11,949.06h1.53v1.53h-1.53zM316.70,949.06h4.59v1.53h-4.59zM324.36,949.06h3.06v1.53h-3.06zM332.01,949.06h3.06v1.53h-3.06zM336.61,949.06h1.53v1.53h-1.53zM302.92,950.59h3.06v1.53h-3.06zM309.05,950.59h1.53v1.53h-1.53zM312.11,950.59h4.59v1.53h-4.59zM318.23,950.59h1.53v1.53h-1.53zM321.30,950.59h1.53v1.53h-1.53zM324.36,950.59h1.53v1.53h-1.53zM327.42,950.59h1.53v1.53h-1.53zM330.48,950.59h4.59v1.53h-4.59zM338.14,950.59h3.06v1.53h-3.06zM296.80,952.12h1.53v1.53h-1.53zM302.92,952.12h6.12v1.53h-6.12zM315.17,952.12h3.06v1.53h-3.06zM319.77,952.12h1.53v1.53h-1.53zM324.36,952.12h1.53v1.53h-1.53zM327.42,952.12h7.66v1.53h-7.66zM336.61,952.12h1.53v1.53h-1.53zM310.58,953.65h1.53v1.53h-1.53zM313.64,953.65h1.53v1.53h-1.53zM316.70,953.65h12.25v1.53h-12.25zM333.54,953.65h1.53v1.53h-1.53zM339.67,953.65h1.53v1.53h-1.53zM296.80,955.18h10.72v1.53h-10.72zM312.11,955.18h1.53v1.53h-1.53zM315.17,955.18h4.59v1.53h-4.59zM321.30,955.18h3.06v1.53h-3.06zM325.89,955.18h3.06v1.53h-3.06zM330.48,955.18h1.53v1.53h-1.53zM333.54,955.18h1.53v1.53h-1.53zM336.61,955.18h3.06v1.53h-3.06zM296.80,956.71h1.53v1.53h-1.53zM305.99,956.71h1.53v1.53h-1.53zM312.11,956.71h1.53v1.53h-1.53zM316.70,956.71h1.53v1.53h-1.53zM321.30,956.71h3.06v1.53h-3.06zM325.89,956.71h3.06v1.53h-3.06zM333.54,956.71h4.59v1.53h-4.59zM296.80,958.24h1.53v1.53h-1.53zM299.86,958.24h4.59v1.53h-4.59zM305.99,958.24h1.53v1.53h-1.53zM310.58,958.24h3.06v1.53h-3.06zM315.17,958.24h1.53v1.53h-1.53zM319.77,958.24h4.59v1.53h-4.59zM325.89,958.24h15.31v1.53h-15.31zM296.80,959.78h1.53v1.53h-1.53zM299.86,959.78h4.59v1.53h-4.59zM305.99,959.78h1.53v1.53h-1.53zM309.05,959.78h1.53v1.53h-1.53zM316.70,959.78h3.06v1.53h-3.06zM322.83,959.78h4.59v1.53h-4.59zM330.48,959.78h1.53v1.53h-1.53zM338.14,959.78h1.53v1.53h-1.53zM296.80,961.31h1.53v1.53h-1.53zM299.86,961.31h4.59v1.53h-4.59zM305.99,961.31h1.53v1.53h-1.53zM309.05,961.31h19.90v1.53h-19.90zM332.01,961.31h3.06v1.53h-3.06zM336.61,961.31h4.59v1.53h-4.59zM296.80,962.84h1.53v1.53h-1.53zM305.99,962.84h1.53v1.53h-1.53zM310.58,962.84h4.59v1.53h-4.59zM321.30,962.84h1.53v1.53h-1.53zM325.89,962.84h3.06v1.53h-3.06zM330.48,962.84h1.53v1.53h-1.53zM335.08,962.84h4.59v1.53h-4.59zM296.80,964.37h10.72v1.53h-10.72zM309.05,964.37h3.06v1.53h-3.06zM313.64,964.37h1.53v1.53h-1.53zM316.70,964.37h1.53v1.53h-1.53zM319.77,964.37h1.53v1.53h-1.53zM322.83,964.37h3.06v1.53h-3.06zM327.42,964.37h1.53v1.53h-1.53zM332.01,964.37h4.59v1.53h-4.59zM338.14,964.37h1.53v1.53h-1.53z" fill="#1a1a1a"/>
</g>
<g font-weight="bold" font-size="13" fill="#2b2b2b" font-family="Liberation Mono" style="font-family:Liberation Mono,monospace">
<text x="161.9" y="830.1" textLength="47.2" lengthAdjust="spacingAndGlyphs" style="font-family:Liberation Mono,monospace">690511</text>
<text x="228.1" y="830.1" textLength="47.2" lengthAdjust="spacingAndGlyphs" style="font-family:Liberation Mono,monospace">690513</text>
<text x="294.9" y="830.1" textLength="47.2" lengthAdjust="spacingAndGlyphs" style="font-family:Liberation Mono,monospace">690517</text>
<text x="161.9" y="911.0" textLength="47.2" lengthAdjust="spacingAndGlyphs" style="font-family:Liberation Mono,monospace">690611</text>
<text x="228.1" y="911.0" textLength="47.2" lengthAdjust="spacingAndGlyphs" style="font-family:Liberation Mono,monospace">690613</text>
<text x="294.9" y="911.0" textLength="47.2" lengthAdjust="spacingAndGlyphs" style="font-family:Liberation Mono,monospace">690617</text>
</g>
<!-- 50_footer.svg -->
<text x="307.1" y="1042.2" font-weight="bold" font-size="20" fill="#1a1a1a" stroke="#1a1a1a" stroke-width="0.6" textLength="155" lengthAdjust="spacingAndGlyphs">www.lightstar.ru</text>
</svg>
</body></html>
